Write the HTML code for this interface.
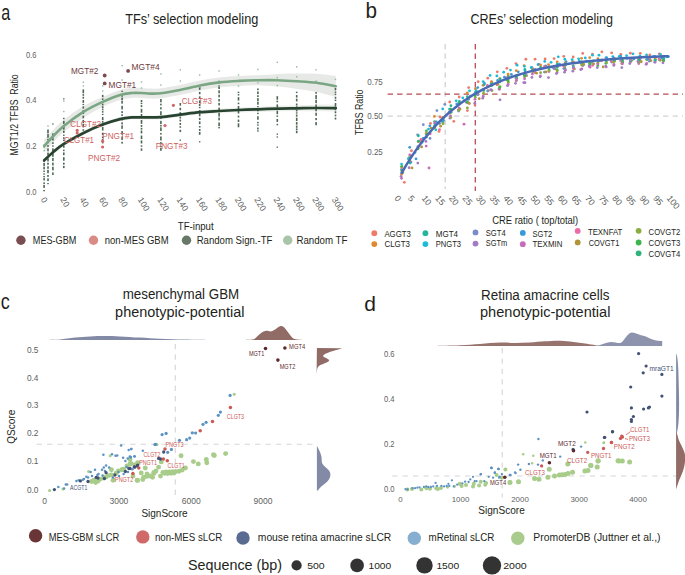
<!DOCTYPE html>
<html><head><meta charset="utf-8"><style>
html,body{margin:0;padding:0;background:#fff;width:685px;height:575px;overflow:hidden}
svg{display:block}
text{font-family:"Liberation Sans", sans-serif}
</style></head><body>
<svg width="685" height="575" viewBox="0 0 685 575">
<rect width="685" height="575" fill="#fff"/>
<text x="1.20" y="20.20" font-size="21.5" fill="#231f20" text-anchor="start" textLength="9.00" lengthAdjust="spacingAndGlyphs">a</text>
<text x="125.20" y="23.80" font-size="14.0" fill="#231f20" text-anchor="start" textLength="133.10" lengthAdjust="spacingAndGlyphs">TFs’ selection modeling</text>
<text x="36.50" y="57.65" font-size="8.3" fill="#5e5f61" text-anchor="end" textLength="10.50" lengthAdjust="spacingAndGlyphs">0.6</text>
<text x="36.50" y="103.15" font-size="8.3" fill="#5e5f61" text-anchor="end" textLength="10.50" lengthAdjust="spacingAndGlyphs">0.4</text>
<text x="36.50" y="148.75" font-size="8.3" fill="#5e5f61" text-anchor="end" textLength="10.50" lengthAdjust="spacingAndGlyphs">0.2</text>
<text x="36.50" y="194.95" font-size="8.3" fill="#5e5f61" text-anchor="end" textLength="10.50" lengthAdjust="spacingAndGlyphs">0.0</text>
<text x="18.10" y="114.90" font-size="10.4" fill="#231f20" text-anchor="middle" textLength="81.20" lengthAdjust="spacingAndGlyphs" transform="rotate(-90 18.10 114.90)">MGT1/2 TFBS  Ratio</text>
<text x="40.50" y="199.60" font-size="8.6" fill="#5e5f61" text-anchor="start" transform="rotate(58 40.50 199.60)">0</text>
<text x="59.90" y="199.60" font-size="8.6" fill="#5e5f61" text-anchor="start" transform="rotate(58 59.90 199.60)">20</text>
<text x="79.30" y="199.60" font-size="8.6" fill="#5e5f61" text-anchor="start" transform="rotate(58 79.30 199.60)">40</text>
<text x="98.70" y="199.60" font-size="8.6" fill="#5e5f61" text-anchor="start" transform="rotate(58 98.70 199.60)">60</text>
<text x="118.10" y="199.60" font-size="8.6" fill="#5e5f61" text-anchor="start" transform="rotate(58 118.10 199.60)">80</text>
<text x="137.50" y="199.60" font-size="8.6" fill="#5e5f61" text-anchor="start" transform="rotate(58 137.50 199.60)">100</text>
<text x="156.90" y="199.60" font-size="8.6" fill="#5e5f61" text-anchor="start" transform="rotate(58 156.90 199.60)">120</text>
<text x="176.30" y="199.60" font-size="8.6" fill="#5e5f61" text-anchor="start" transform="rotate(58 176.30 199.60)">140</text>
<text x="195.70" y="199.60" font-size="8.6" fill="#5e5f61" text-anchor="start" transform="rotate(58 195.70 199.60)">160</text>
<text x="215.10" y="199.60" font-size="8.6" fill="#5e5f61" text-anchor="start" transform="rotate(58 215.10 199.60)">180</text>
<text x="234.50" y="199.60" font-size="8.6" fill="#5e5f61" text-anchor="start" transform="rotate(58 234.50 199.60)">200</text>
<text x="253.90" y="199.60" font-size="8.6" fill="#5e5f61" text-anchor="start" transform="rotate(58 253.90 199.60)">220</text>
<text x="273.30" y="199.60" font-size="8.6" fill="#5e5f61" text-anchor="start" transform="rotate(58 273.30 199.60)">240</text>
<text x="292.70" y="199.60" font-size="8.6" fill="#5e5f61" text-anchor="start" transform="rotate(58 292.70 199.60)">260</text>
<text x="312.10" y="199.60" font-size="8.6" fill="#5e5f61" text-anchor="start" transform="rotate(58 312.10 199.60)">280</text>
<text x="331.50" y="199.60" font-size="8.6" fill="#5e5f61" text-anchor="start" transform="rotate(58 331.50 199.60)">300</text>
<path d="M44.20,139.50 C45.67,137.95 49.78,133.40 53.00,130.16 C56.22,126.92 58.50,124.03 63.50,120.05 C68.50,116.07 76.48,110.15 83.00,106.30 C89.52,102.44 96.43,99.63 102.60,96.90 C108.77,94.17 115.13,91.38 120.00,89.90 C124.87,88.42 128.18,88.32 131.80,88.00 C135.42,87.68 138.67,87.90 141.70,88.00 C144.73,88.10 146.80,88.57 150.00,88.60 C153.20,88.63 155.90,88.80 160.90,88.20 C165.90,87.60 173.48,86.28 180.00,85.00 C186.52,83.72 193.45,81.77 200.00,80.50 C206.55,79.23 212.85,78.17 219.30,77.40 C225.75,76.63 232.25,76.27 238.70,75.90 C245.15,75.53 251.48,75.53 258.00,75.20 C264.52,74.87 271.30,74.19 277.80,73.91 C284.30,73.63 290.53,73.56 297.00,73.52 C303.47,73.49 310.13,73.32 316.60,73.70 C323.07,74.09 332.60,75.46 335.80,75.81 L335.80,96.79 C332.60,95.97 323.07,93.21 316.60,91.90 C310.13,90.58 303.47,89.78 297.00,88.88 C290.53,87.98 284.30,87.10 277.80,86.49 C271.30,85.88 264.52,85.30 258.00,85.20 C251.48,85.10 245.15,85.53 238.70,85.90 C232.25,86.27 225.75,86.63 219.30,87.40 C212.85,88.17 206.55,89.23 200.00,90.50 C193.45,91.77 186.52,93.72 180.00,95.00 C173.48,96.28 165.90,97.60 160.90,98.20 C155.90,98.80 153.20,98.63 150.00,98.60 C146.80,98.57 144.73,98.10 141.70,98.00 C138.67,97.90 135.42,97.68 131.80,98.00 C128.18,98.32 124.87,98.42 120.00,99.90 C115.13,101.38 108.77,103.90 102.60,106.90 C96.43,109.90 89.52,113.66 83.00,117.90 C76.48,122.15 68.50,128.20 63.50,132.35 C58.50,136.51 56.22,139.48 53.00,142.84 C49.78,146.20 45.67,150.89 44.20,152.50 Z" fill="#e7e9e7"/>
<path d="M44.20,158.30 C45.67,156.95 49.78,152.88 53.00,150.20 C56.22,147.52 58.50,145.37 63.50,142.20 C68.50,139.03 76.48,134.47 83.00,131.20 C89.52,127.93 96.43,124.95 102.60,122.60 C108.77,120.25 115.13,118.30 120.00,117.10 C124.87,115.90 128.18,115.68 131.80,115.40 C135.42,115.12 136.85,115.43 141.70,115.40 C146.55,115.37 154.52,115.65 160.90,115.20 C167.28,114.75 173.48,113.53 180.00,112.70 C186.52,111.87 193.45,110.85 200.00,110.20 C206.55,109.55 212.85,109.22 219.30,108.79 C225.75,108.35 232.25,107.93 238.70,107.57 C245.15,107.22 251.48,106.97 258.00,106.66 C264.52,106.36 271.30,105.98 277.80,105.74 C284.30,105.50 290.53,105.40 297.00,105.23 C303.47,105.06 310.13,104.82 316.60,104.71 C323.07,104.61 332.60,104.62 335.80,104.60 L335.80,111.60 C332.60,111.55 323.07,111.32 316.60,111.29 C310.13,111.25 303.47,111.34 297.00,111.37 C290.53,111.40 284.30,111.36 277.80,111.46 C271.30,111.55 264.52,111.78 258.00,111.94 C251.48,112.10 245.15,112.21 238.70,112.43 C232.25,112.64 225.75,112.92 219.30,113.21 C212.85,113.51 206.55,113.62 200.00,114.20 C193.45,114.78 186.52,115.87 180.00,116.70 C173.48,117.53 167.28,118.75 160.90,119.20 C154.52,119.65 146.55,119.37 141.70,119.40 C136.85,119.43 135.42,119.12 131.80,119.40 C128.18,119.68 124.87,119.90 120.00,121.10 C115.13,122.30 108.77,124.25 102.60,126.60 C96.43,128.95 89.52,131.93 83.00,135.20 C76.48,138.47 68.50,143.03 63.50,146.20 C58.50,149.37 56.22,151.52 53.00,154.20 C49.78,156.88 45.67,160.95 44.20,162.30 Z" fill="#eef0ee"/>
<rect x="43.30" y="160.00" width="1.6" height="2.11" fill="#37553f" fill-opacity="0.9"/>
<rect x="43.30" y="162.95" width="1.6" height="3.02" fill="#37553f" fill-opacity="0.9"/>
<rect x="43.30" y="166.69" width="1.6" height="2.70" fill="#37553f" fill-opacity="0.9"/>
<rect x="43.30" y="170.57" width="1.6" height="1.36" fill="#37553f" fill-opacity="0.9"/>
<rect x="43.30" y="173.35" width="1.6" height="1.30" fill="#37553f" fill-opacity="0.9"/>
<rect x="43.30" y="175.95" width="1.6" height="1.40" fill="#37553f" fill-opacity="0.9"/>
<rect x="43.30" y="178.09" width="1.6" height="2.39" fill="#37553f" fill-opacity="0.9"/>
<rect x="43.30" y="182.40" width="1.6" height="1.55" fill="#37553f" fill-opacity="0.9"/>
<rect x="43.30" y="184.90" width="1.6" height="2.96" fill="#37553f" fill-opacity="0.9"/>
<rect x="43.30" y="189.97" width="1.6" height="1.33" fill="#37553f" fill-opacity="0.9"/>
<rect x="43.40" y="144.30" width="1.4" height="1.4" fill="#92b99a"/>
<rect x="43.40" y="146.80" width="1.4" height="1.4" fill="#92b99a"/>
<rect x="43.40" y="149.90" width="1.4" height="1.4" fill="#92b99a"/>
<rect x="47.20" y="129.50" width="1.6" height="3.93" fill="#37553f" fill-opacity="0.9"/>
<rect x="47.20" y="134.11" width="1.6" height="3.60" fill="#37553f" fill-opacity="0.9"/>
<rect x="47.20" y="138.78" width="1.6" height="1.60" fill="#37553f" fill-opacity="0.9"/>
<rect x="47.20" y="141.17" width="1.6" height="2.06" fill="#37553f" fill-opacity="0.9"/>
<rect x="47.20" y="145.14" width="1.6" height="1.71" fill="#37553f" fill-opacity="0.9"/>
<rect x="47.20" y="148.37" width="1.6" height="2.99" fill="#37553f" fill-opacity="0.9"/>
<rect x="47.20" y="152.56" width="1.6" height="2.73" fill="#37553f" fill-opacity="0.9"/>
<rect x="47.20" y="155.99" width="1.6" height="1.37" fill="#37553f" fill-opacity="0.9"/>
<rect x="47.20" y="158.29" width="1.6" height="3.11" fill="#37553f" fill-opacity="0.9"/>
<rect x="47.20" y="162.68" width="1.6" height="2.08" fill="#37553f" fill-opacity="0.9"/>
<rect x="47.20" y="166.29" width="1.6" height="2.47" fill="#37553f" fill-opacity="0.9"/>
<rect x="47.20" y="169.84" width="1.6" height="3.42" fill="#37553f" fill-opacity="0.9"/>
<rect x="47.20" y="174.99" width="1.6" height="1.88" fill="#37553f" fill-opacity="0.9"/>
<rect x="47.20" y="178.39" width="1.6" height="2.67" fill="#37553f" fill-opacity="0.9"/>
<rect x="47.20" y="183.06" width="1.6" height="1.14" fill="#37553f" fill-opacity="0.9"/>
<rect x="47.30" y="125.30" width="1.4" height="1.4" fill="#92b99a"/>
<rect x="52.10" y="133.40" width="1.6" height="3.94" fill="#37553f" fill-opacity="0.9"/>
<rect x="52.10" y="138.13" width="1.6" height="2.37" fill="#37553f" fill-opacity="0.9"/>
<rect x="52.10" y="142.32" width="1.6" height="1.63" fill="#37553f" fill-opacity="0.9"/>
<rect x="52.10" y="145.32" width="1.6" height="1.31" fill="#37553f" fill-opacity="0.9"/>
<rect x="52.10" y="148.30" width="1.6" height="3.34" fill="#37553f" fill-opacity="0.9"/>
<rect x="52.10" y="153.16" width="1.6" height="3.65" fill="#37553f" fill-opacity="0.9"/>
<rect x="52.10" y="157.91" width="1.6" height="3.15" fill="#37553f" fill-opacity="0.9"/>
<rect x="52.10" y="162.61" width="1.6" height="2.82" fill="#37553f" fill-opacity="0.9"/>
<rect x="52.10" y="166.76" width="1.6" height="3.55" fill="#37553f" fill-opacity="0.9"/>
<rect x="52.10" y="172.43" width="1.6" height="2.53" fill="#37553f" fill-opacity="0.9"/>
<rect x="52.20" y="123.30" width="1.4" height="1.4" fill="#37553f" fill-opacity="0.8"/>
<rect x="63.00" y="117.80" width="1.6" height="1.37" fill="#37553f" fill-opacity="0.9"/>
<rect x="63.00" y="120.89" width="1.6" height="3.01" fill="#37553f" fill-opacity="0.9"/>
<rect x="63.00" y="126.09" width="1.6" height="3.50" fill="#37553f" fill-opacity="0.9"/>
<rect x="63.00" y="130.65" width="1.6" height="2.28" fill="#37553f" fill-opacity="0.9"/>
<rect x="63.00" y="134.60" width="1.6" height="1.26" fill="#37553f" fill-opacity="0.9"/>
<rect x="63.00" y="137.20" width="1.6" height="1.67" fill="#37553f" fill-opacity="0.9"/>
<rect x="63.00" y="139.66" width="1.6" height="1.37" fill="#37553f" fill-opacity="0.9"/>
<rect x="63.00" y="142.85" width="1.6" height="1.56" fill="#37553f" fill-opacity="0.9"/>
<rect x="63.00" y="145.41" width="1.6" height="2.29" fill="#37553f" fill-opacity="0.9"/>
<rect x="63.00" y="149.70" width="1.6" height="1.43" fill="#37553f" fill-opacity="0.9"/>
<rect x="63.00" y="152.45" width="1.6" height="2.74" fill="#37553f" fill-opacity="0.9"/>
<rect x="63.00" y="157.20" width="1.6" height="3.49" fill="#37553f" fill-opacity="0.9"/>
<rect x="63.00" y="162.67" width="1.6" height="1.98" fill="#37553f" fill-opacity="0.9"/>
<rect x="63.00" y="165.92" width="1.6" height="2.20" fill="#37553f" fill-opacity="0.9"/>
<rect x="63.10" y="98.10" width="1.4" height="1.4" fill="#37553f" fill-opacity="0.8"/>
<rect x="63.10" y="100.30" width="1.4" height="1.4" fill="#92b99a"/>
<rect x="63.10" y="110.90" width="1.4" height="1.4" fill="#92b99a"/>
<rect x="82.50" y="89.40" width="1.6" height="3.88" fill="#37553f" fill-opacity="0.9"/>
<rect x="82.50" y="94.12" width="1.6" height="1.69" fill="#37553f" fill-opacity="0.9"/>
<rect x="82.50" y="96.79" width="1.6" height="1.85" fill="#37553f" fill-opacity="0.9"/>
<rect x="82.50" y="100.02" width="1.6" height="2.85" fill="#37553f" fill-opacity="0.9"/>
<rect x="82.50" y="103.89" width="1.6" height="1.21" fill="#37553f" fill-opacity="0.9"/>
<rect x="82.50" y="106.37" width="1.6" height="2.23" fill="#37553f" fill-opacity="0.9"/>
<rect x="82.50" y="110.11" width="1.6" height="3.87" fill="#37553f" fill-opacity="0.9"/>
<rect x="82.50" y="115.68" width="1.6" height="2.64" fill="#37553f" fill-opacity="0.9"/>
<rect x="82.50" y="119.91" width="1.6" height="3.09" fill="#37553f" fill-opacity="0.9"/>
<rect x="82.50" y="123.69" width="1.6" height="3.72" fill="#37553f" fill-opacity="0.9"/>
<rect x="82.50" y="129.26" width="1.6" height="1.54" fill="#37553f" fill-opacity="0.9"/>
<rect x="82.60" y="81.60" width="1.4" height="1.4" fill="#92b99a"/>
<rect x="82.60" y="85.30" width="1.4" height="1.4" fill="#92b99a"/>
<rect x="101.90" y="94.90" width="1.6" height="2.30" fill="#37553f" fill-opacity="0.9"/>
<rect x="101.90" y="98.44" width="1.6" height="1.49" fill="#37553f" fill-opacity="0.9"/>
<rect x="101.90" y="101.54" width="1.6" height="1.37" fill="#37553f" fill-opacity="0.9"/>
<rect x="101.90" y="103.62" width="1.6" height="1.78" fill="#37553f" fill-opacity="0.9"/>
<rect x="101.90" y="106.27" width="1.6" height="2.15" fill="#37553f" fill-opacity="0.9"/>
<rect x="101.90" y="109.10" width="1.6" height="1.20" fill="#37553f" fill-opacity="0.9"/>
<rect x="101.90" y="111.15" width="1.6" height="1.48" fill="#37553f" fill-opacity="0.9"/>
<rect x="101.90" y="113.81" width="1.6" height="1.27" fill="#37553f" fill-opacity="0.9"/>
<rect x="101.90" y="117.08" width="1.6" height="2.92" fill="#37553f" fill-opacity="0.9"/>
<rect x="101.90" y="120.84" width="1.6" height="1.91" fill="#37553f" fill-opacity="0.9"/>
<rect x="101.90" y="123.90" width="1.6" height="2.22" fill="#37553f" fill-opacity="0.9"/>
<rect x="101.90" y="126.92" width="1.6" height="3.58" fill="#37553f" fill-opacity="0.9"/>
<rect x="101.90" y="132.68" width="1.6" height="2.50" fill="#37553f" fill-opacity="0.9"/>
<rect x="101.90" y="136.56" width="1.6" height="1.44" fill="#37553f" fill-opacity="0.9"/>
<rect x="101.90" y="138.77" width="1.6" height="2.16" fill="#37553f" fill-opacity="0.9"/>
<rect x="101.90" y="141.95" width="1.6" height="1.45" fill="#37553f" fill-opacity="0.9"/>
<rect x="102.00" y="85.30" width="1.4" height="1.4" fill="#92b99a"/>
<rect x="102.00" y="90.30" width="1.4" height="1.4" fill="#92b99a"/>
<rect x="121.30" y="90.70" width="1.6" height="1.26" fill="#37553f" fill-opacity="0.9"/>
<rect x="121.30" y="94.09" width="1.6" height="2.68" fill="#37553f" fill-opacity="0.9"/>
<rect x="121.30" y="97.60" width="1.6" height="2.72" fill="#37553f" fill-opacity="0.9"/>
<rect x="121.30" y="100.96" width="1.6" height="2.68" fill="#37553f" fill-opacity="0.9"/>
<rect x="121.30" y="105.81" width="1.6" height="3.62" fill="#37553f" fill-opacity="0.9"/>
<rect x="121.30" y="111.14" width="1.6" height="1.93" fill="#37553f" fill-opacity="0.9"/>
<rect x="121.30" y="114.26" width="1.6" height="1.67" fill="#37553f" fill-opacity="0.9"/>
<rect x="121.30" y="117.76" width="1.6" height="2.69" fill="#37553f" fill-opacity="0.9"/>
<rect x="121.30" y="122.30" width="1.6" height="2.12" fill="#37553f" fill-opacity="0.9"/>
<rect x="121.30" y="125.38" width="1.6" height="3.47" fill="#37553f" fill-opacity="0.9"/>
<rect x="121.30" y="131.03" width="1.6" height="3.59" fill="#37553f" fill-opacity="0.9"/>
<rect x="121.30" y="136.50" width="1.6" height="3.49" fill="#37553f" fill-opacity="0.9"/>
<rect x="121.30" y="141.78" width="1.6" height="1.83" fill="#37553f" fill-opacity="0.9"/>
<rect x="121.40" y="65.00" width="1.4" height="1.4" fill="#92b99a"/>
<rect x="121.40" y="79.30" width="1.4" height="1.4" fill="#92b99a"/>
<rect x="140.70" y="100.00" width="1.6" height="2.20" fill="#37553f" fill-opacity="0.9"/>
<rect x="140.70" y="102.84" width="1.6" height="1.28" fill="#37553f" fill-opacity="0.9"/>
<rect x="140.70" y="105.17" width="1.6" height="1.93" fill="#37553f" fill-opacity="0.9"/>
<rect x="140.70" y="108.80" width="1.6" height="3.88" fill="#37553f" fill-opacity="0.9"/>
<rect x="140.70" y="113.99" width="1.6" height="3.82" fill="#37553f" fill-opacity="0.9"/>
<rect x="140.70" y="120.00" width="1.6" height="3.87" fill="#37553f" fill-opacity="0.9"/>
<rect x="140.70" y="125.06" width="1.6" height="1.82" fill="#37553f" fill-opacity="0.9"/>
<rect x="140.70" y="127.84" width="1.6" height="1.75" fill="#37553f" fill-opacity="0.9"/>
<rect x="140.70" y="130.51" width="1.6" height="2.95" fill="#37553f" fill-opacity="0.9"/>
<rect x="140.70" y="135.50" width="1.6" height="3.55" fill="#37553f" fill-opacity="0.9"/>
<rect x="140.70" y="140.42" width="1.6" height="3.03" fill="#37553f" fill-opacity="0.9"/>
<rect x="140.70" y="145.33" width="1.6" height="1.44" fill="#37553f" fill-opacity="0.9"/>
<rect x="140.70" y="148.43" width="1.6" height="2.37" fill="#37553f" fill-opacity="0.9"/>
<rect x="140.80" y="81.30" width="1.4" height="1.4" fill="#92b99a"/>
<rect x="140.80" y="87.30" width="1.4" height="1.4" fill="#92b99a"/>
<rect x="160.10" y="99.00" width="1.6" height="3.30" fill="#37553f" fill-opacity="0.9"/>
<rect x="160.10" y="103.67" width="1.6" height="1.70" fill="#37553f" fill-opacity="0.9"/>
<rect x="160.10" y="107.23" width="1.6" height="2.13" fill="#37553f" fill-opacity="0.9"/>
<rect x="160.10" y="111.24" width="1.6" height="3.92" fill="#37553f" fill-opacity="0.9"/>
<rect x="160.10" y="116.39" width="1.6" height="2.32" fill="#37553f" fill-opacity="0.9"/>
<rect x="160.10" y="120.83" width="1.6" height="3.23" fill="#37553f" fill-opacity="0.9"/>
<rect x="160.10" y="124.93" width="1.6" height="1.56" fill="#37553f" fill-opacity="0.9"/>
<rect x="160.10" y="127.33" width="1.6" height="3.73" fill="#37553f" fill-opacity="0.9"/>
<rect x="160.10" y="132.96" width="1.6" height="1.61" fill="#37553f" fill-opacity="0.9"/>
<rect x="160.10" y="136.49" width="1.6" height="3.94" fill="#37553f" fill-opacity="0.9"/>
<rect x="160.10" y="142.08" width="1.6" height="2.18" fill="#37553f" fill-opacity="0.9"/>
<rect x="160.10" y="145.74" width="1.6" height="1.57" fill="#37553f" fill-opacity="0.9"/>
<rect x="160.10" y="147.93" width="1.6" height="2.87" fill="#37553f" fill-opacity="0.9"/>
<rect x="160.20" y="73.30" width="1.4" height="1.4" fill="#92b99a"/>
<rect x="160.20" y="84.30" width="1.4" height="1.4" fill="#92b99a"/>
<rect x="179.50" y="103.00" width="1.6" height="2.67" fill="#37553f" fill-opacity="0.9"/>
<rect x="179.50" y="107.77" width="1.6" height="2.41" fill="#37553f" fill-opacity="0.9"/>
<rect x="179.50" y="112.18" width="1.6" height="3.51" fill="#37553f" fill-opacity="0.9"/>
<rect x="179.50" y="116.63" width="1.6" height="1.91" fill="#37553f" fill-opacity="0.9"/>
<rect x="179.50" y="119.60" width="1.6" height="1.87" fill="#37553f" fill-opacity="0.9"/>
<rect x="179.50" y="123.01" width="1.6" height="1.93" fill="#37553f" fill-opacity="0.9"/>
<rect x="179.50" y="126.21" width="1.6" height="1.57" fill="#37553f" fill-opacity="0.9"/>
<rect x="179.50" y="129.83" width="1.6" height="2.19" fill="#37553f" fill-opacity="0.9"/>
<rect x="179.60" y="139.50" width="1.4" height="1.4" fill="#37553f" fill-opacity="0.8"/>
<rect x="179.60" y="69.10" width="1.4" height="1.4" fill="#92b99a"/>
<rect x="179.60" y="80.30" width="1.4" height="1.4" fill="#92b99a"/>
<rect x="198.90" y="87.00" width="1.6" height="2.83" fill="#37553f" fill-opacity="0.9"/>
<rect x="198.90" y="91.88" width="1.6" height="2.38" fill="#37553f" fill-opacity="0.9"/>
<rect x="198.90" y="96.33" width="1.6" height="2.60" fill="#37553f" fill-opacity="0.9"/>
<rect x="198.90" y="100.38" width="1.6" height="2.67" fill="#37553f" fill-opacity="0.9"/>
<rect x="198.90" y="103.68" width="1.6" height="2.43" fill="#37553f" fill-opacity="0.9"/>
<rect x="198.90" y="107.00" width="1.6" height="1.21" fill="#37553f" fill-opacity="0.9"/>
<rect x="198.90" y="110.09" width="1.6" height="1.68" fill="#37553f" fill-opacity="0.9"/>
<rect x="198.90" y="113.13" width="1.6" height="3.23" fill="#37553f" fill-opacity="0.9"/>
<rect x="198.90" y="117.85" width="1.6" height="2.11" fill="#37553f" fill-opacity="0.9"/>
<rect x="198.90" y="121.40" width="1.6" height="2.76" fill="#37553f" fill-opacity="0.9"/>
<rect x="198.90" y="126.01" width="1.6" height="1.50" fill="#37553f" fill-opacity="0.9"/>
<rect x="198.90" y="129.00" width="1.6" height="1.90" fill="#37553f" fill-opacity="0.9"/>
<rect x="198.90" y="131.94" width="1.6" height="2.86" fill="#37553f" fill-opacity="0.9"/>
<rect x="199.00" y="141.10" width="1.4" height="1.4" fill="#37553f" fill-opacity="0.8"/>
<rect x="199.00" y="74.30" width="1.4" height="1.4" fill="#92b99a"/>
<rect x="199.00" y="86.30" width="1.4" height="1.4" fill="#92b99a"/>
<rect x="218.30" y="80.70" width="1.6" height="2.77" fill="#37553f" fill-opacity="0.9"/>
<rect x="218.30" y="85.29" width="1.6" height="3.75" fill="#37553f" fill-opacity="0.9"/>
<rect x="218.30" y="90.35" width="1.6" height="2.92" fill="#37553f" fill-opacity="0.9"/>
<rect x="218.30" y="94.68" width="1.6" height="2.63" fill="#37553f" fill-opacity="0.9"/>
<rect x="218.30" y="99.02" width="1.6" height="2.47" fill="#37553f" fill-opacity="0.9"/>
<rect x="218.30" y="102.94" width="1.6" height="2.54" fill="#37553f" fill-opacity="0.9"/>
<rect x="218.30" y="107.58" width="1.6" height="3.16" fill="#37553f" fill-opacity="0.9"/>
<rect x="218.30" y="112.74" width="1.6" height="3.84" fill="#37553f" fill-opacity="0.9"/>
<rect x="218.30" y="117.60" width="1.6" height="2.77" fill="#37553f" fill-opacity="0.9"/>
<rect x="218.30" y="122.47" width="1.6" height="3.55" fill="#37553f" fill-opacity="0.9"/>
<rect x="218.30" y="126.85" width="1.6" height="1.54" fill="#37553f" fill-opacity="0.9"/>
<rect x="218.40" y="70.30" width="1.4" height="1.4" fill="#92b99a"/>
<rect x="218.40" y="85.60" width="1.4" height="1.4" fill="#92b99a"/>
<rect x="237.70" y="91.70" width="1.6" height="1.40" fill="#37553f" fill-opacity="0.9"/>
<rect x="237.70" y="94.09" width="1.6" height="1.40" fill="#37553f" fill-opacity="0.9"/>
<rect x="237.70" y="97.16" width="1.6" height="3.40" fill="#37553f" fill-opacity="0.9"/>
<rect x="237.70" y="102.59" width="1.6" height="1.63" fill="#37553f" fill-opacity="0.9"/>
<rect x="237.70" y="105.97" width="1.6" height="3.05" fill="#37553f" fill-opacity="0.9"/>
<rect x="237.70" y="109.85" width="1.6" height="3.67" fill="#37553f" fill-opacity="0.9"/>
<rect x="237.70" y="115.67" width="1.6" height="1.81" fill="#37553f" fill-opacity="0.9"/>
<rect x="237.70" y="119.61" width="1.6" height="2.32" fill="#37553f" fill-opacity="0.9"/>
<rect x="237.70" y="123.30" width="1.6" height="3.97" fill="#37553f" fill-opacity="0.9"/>
<rect x="237.80" y="74.30" width="1.4" height="1.4" fill="#92b99a"/>
<rect x="237.80" y="85.30" width="1.4" height="1.4" fill="#92b99a"/>
<rect x="257.10" y="88.50" width="1.6" height="1.65" fill="#37553f" fill-opacity="0.9"/>
<rect x="257.10" y="91.44" width="1.6" height="2.64" fill="#37553f" fill-opacity="0.9"/>
<rect x="257.10" y="95.23" width="1.6" height="1.75" fill="#37553f" fill-opacity="0.9"/>
<rect x="257.10" y="98.09" width="1.6" height="3.22" fill="#37553f" fill-opacity="0.9"/>
<rect x="257.10" y="101.94" width="1.6" height="2.75" fill="#37553f" fill-opacity="0.9"/>
<rect x="257.10" y="106.00" width="1.6" height="1.25" fill="#37553f" fill-opacity="0.9"/>
<rect x="257.10" y="108.38" width="1.6" height="2.95" fill="#37553f" fill-opacity="0.9"/>
<rect x="257.10" y="112.74" width="1.6" height="1.38" fill="#37553f" fill-opacity="0.9"/>
<rect x="257.10" y="116.30" width="1.6" height="3.41" fill="#37553f" fill-opacity="0.9"/>
<rect x="257.10" y="121.86" width="1.6" height="1.49" fill="#37553f" fill-opacity="0.9"/>
<rect x="257.10" y="124.38" width="1.6" height="1.31" fill="#37553f" fill-opacity="0.9"/>
<rect x="257.10" y="127.54" width="1.6" height="1.96" fill="#37553f" fill-opacity="0.9"/>
<rect x="257.10" y="130.30" width="1.6" height="1.30" fill="#37553f" fill-opacity="0.9"/>
<rect x="257.20" y="68.70" width="1.4" height="1.4" fill="#92b99a"/>
<rect x="257.20" y="82.10" width="1.4" height="1.4" fill="#92b99a"/>
<rect x="276.50" y="96.20" width="1.6" height="3.49" fill="#37553f" fill-opacity="0.9"/>
<rect x="276.50" y="100.71" width="1.6" height="1.62" fill="#37553f" fill-opacity="0.9"/>
<rect x="276.50" y="104.40" width="1.6" height="2.80" fill="#37553f" fill-opacity="0.9"/>
<rect x="276.50" y="108.91" width="1.6" height="1.45" fill="#37553f" fill-opacity="0.9"/>
<rect x="276.50" y="111.06" width="1.6" height="3.13" fill="#37553f" fill-opacity="0.9"/>
<rect x="276.50" y="115.46" width="1.6" height="1.40" fill="#37553f" fill-opacity="0.9"/>
<rect x="276.50" y="118.97" width="1.6" height="2.98" fill="#37553f" fill-opacity="0.9"/>
<rect x="276.50" y="123.83" width="1.6" height="1.43" fill="#37553f" fill-opacity="0.9"/>
<rect x="276.60" y="133.50" width="1.4" height="1.4" fill="#37553f" fill-opacity="0.8"/>
<rect x="276.60" y="136.30" width="1.4" height="1.4" fill="#37553f" fill-opacity="0.8"/>
<rect x="276.60" y="146.50" width="1.4" height="1.4" fill="#37553f" fill-opacity="0.8"/>
<rect x="276.60" y="61.60" width="1.4" height="1.4" fill="#92b99a"/>
<rect x="276.60" y="76.90" width="1.4" height="1.4" fill="#92b99a"/>
<rect x="276.60" y="84.80" width="1.4" height="1.4" fill="#92b99a"/>
<rect x="295.90" y="91.70" width="1.6" height="1.39" fill="#37553f" fill-opacity="0.9"/>
<rect x="295.90" y="95.07" width="1.6" height="2.47" fill="#37553f" fill-opacity="0.9"/>
<rect x="295.90" y="98.68" width="1.6" height="2.75" fill="#37553f" fill-opacity="0.9"/>
<rect x="295.90" y="103.51" width="1.6" height="1.95" fill="#37553f" fill-opacity="0.9"/>
<rect x="295.90" y="106.27" width="1.6" height="2.68" fill="#37553f" fill-opacity="0.9"/>
<rect x="295.90" y="109.93" width="1.6" height="1.51" fill="#37553f" fill-opacity="0.9"/>
<rect x="295.90" y="112.29" width="1.6" height="1.34" fill="#37553f" fill-opacity="0.9"/>
<rect x="295.90" y="114.55" width="1.6" height="2.07" fill="#37553f" fill-opacity="0.9"/>
<rect x="295.90" y="117.72" width="1.6" height="3.33" fill="#37553f" fill-opacity="0.9"/>
<rect x="295.90" y="122.11" width="1.6" height="2.60" fill="#37553f" fill-opacity="0.9"/>
<rect x="295.90" y="125.59" width="1.6" height="2.17" fill="#37553f" fill-opacity="0.9"/>
<rect x="295.90" y="128.39" width="1.6" height="1.90" fill="#37553f" fill-opacity="0.9"/>
<rect x="295.90" y="130.92" width="1.6" height="2.28" fill="#37553f" fill-opacity="0.9"/>
<rect x="296.00" y="66.10" width="1.4" height="1.4" fill="#92b99a"/>
<rect x="296.00" y="76.10" width="1.4" height="1.4" fill="#92b99a"/>
<rect x="296.00" y="80.40" width="1.4" height="1.4" fill="#92b99a"/>
<rect x="315.30" y="92.00" width="1.6" height="1.73" fill="#37553f" fill-opacity="0.9"/>
<rect x="315.30" y="95.09" width="1.6" height="3.82" fill="#37553f" fill-opacity="0.9"/>
<rect x="315.30" y="99.68" width="1.6" height="3.49" fill="#37553f" fill-opacity="0.9"/>
<rect x="315.30" y="104.46" width="1.6" height="2.59" fill="#37553f" fill-opacity="0.9"/>
<rect x="315.30" y="108.98" width="1.6" height="2.30" fill="#37553f" fill-opacity="0.9"/>
<rect x="315.30" y="112.69" width="1.6" height="3.13" fill="#37553f" fill-opacity="0.9"/>
<rect x="315.30" y="117.99" width="1.6" height="2.16" fill="#37553f" fill-opacity="0.9"/>
<rect x="315.30" y="122.08" width="1.6" height="3.18" fill="#37553f" fill-opacity="0.9"/>
<rect x="315.40" y="69.10" width="1.4" height="1.4" fill="#92b99a"/>
<rect x="315.40" y="80.40" width="1.4" height="1.4" fill="#92b99a"/>
<rect x="334.70" y="88.00" width="1.6" height="2.33" fill="#37553f" fill-opacity="0.9"/>
<rect x="334.70" y="91.49" width="1.6" height="1.35" fill="#37553f" fill-opacity="0.9"/>
<rect x="334.70" y="93.65" width="1.6" height="1.40" fill="#37553f" fill-opacity="0.9"/>
<rect x="334.70" y="96.83" width="1.6" height="1.92" fill="#37553f" fill-opacity="0.9"/>
<rect x="334.70" y="99.61" width="1.6" height="1.44" fill="#37553f" fill-opacity="0.9"/>
<rect x="334.70" y="102.99" width="1.6" height="3.64" fill="#37553f" fill-opacity="0.9"/>
<rect x="334.70" y="108.30" width="1.6" height="1.99" fill="#37553f" fill-opacity="0.9"/>
<rect x="334.70" y="111.28" width="1.6" height="2.02" fill="#37553f" fill-opacity="0.9"/>
<rect x="334.70" y="114.64" width="1.6" height="1.64" fill="#37553f" fill-opacity="0.9"/>
<rect x="334.70" y="117.59" width="1.6" height="1.94" fill="#37553f" fill-opacity="0.9"/>
<rect x="334.80" y="78.70" width="1.4" height="1.4" fill="#92b99a"/>
<path d="M44.20,146.00 C45.67,144.42 49.78,139.80 53.00,136.50 C56.22,133.20 58.50,130.27 63.50,126.20 C68.50,122.13 76.48,116.15 83.00,112.10 C89.52,108.05 96.43,104.77 102.60,101.90 C108.77,99.03 115.13,96.38 120.00,94.90 C124.87,93.42 128.18,93.32 131.80,93.00 C135.42,92.68 138.67,92.90 141.70,93.00 C144.73,93.10 146.80,93.57 150.00,93.60 C153.20,93.63 155.90,93.80 160.90,93.20 C165.90,92.60 173.48,91.28 180.00,90.00 C186.52,88.72 193.45,86.77 200.00,85.50 C206.55,84.23 212.85,83.17 219.30,82.40 C225.75,81.63 232.25,81.27 238.70,80.90 C245.15,80.53 251.48,80.32 258.00,80.20 C264.52,80.08 271.30,80.03 277.80,80.20 C284.30,80.37 290.53,80.77 297.00,81.20 C303.47,81.63 310.13,81.95 316.60,82.80 C323.07,83.65 332.60,85.72 335.80,86.30" fill="none" stroke="#7aa683" stroke-width="2.6" stroke-linecap="round"/>
<path d="M44.20,160.30 C45.67,158.95 49.78,154.88 53.00,152.20 C56.22,149.52 58.50,147.37 63.50,144.20 C68.50,141.03 76.48,136.47 83.00,133.20 C89.52,129.93 96.43,126.95 102.60,124.60 C108.77,122.25 115.13,120.30 120.00,119.10 C124.87,117.90 128.18,117.68 131.80,117.40 C135.42,117.12 136.85,117.43 141.70,117.40 C146.55,117.37 154.52,117.65 160.90,117.20 C167.28,116.75 173.48,115.53 180.00,114.70 C186.52,113.87 193.45,112.82 200.00,112.20 C206.55,111.58 212.85,111.37 219.30,111.00 C225.75,110.63 232.25,110.28 238.70,110.00 C245.15,109.72 251.48,109.53 258.00,109.30 C264.52,109.07 271.30,108.77 277.80,108.60 C284.30,108.43 290.53,108.40 297.00,108.30 C303.47,108.20 310.13,108.03 316.60,108.00 C323.07,107.97 332.60,108.08 335.80,108.10" fill="none" stroke="#28432f" stroke-width="2.7" stroke-linecap="round"/>
<circle cx="104.70" cy="75.50" r="1.9" fill="#7a4a4f"/>
<circle cx="104.70" cy="83.40" r="1.9" fill="#7a4a4f"/>
<circle cx="128.10" cy="70.90" r="1.9" fill="#7a4a4f"/>
<text x="71.00" y="73.88" font-size="8.8" fill="#6e3b40" text-anchor="start" textLength="27.40" lengthAdjust="spacingAndGlyphs">MGT#2</text>
<text x="108.60" y="88.08" font-size="8.8" fill="#6e3b40" text-anchor="start" textLength="27.60" lengthAdjust="spacingAndGlyphs">MGT#1</text>
<text x="131.60" y="69.88" font-size="8.8" fill="#6e3b40" text-anchor="start" textLength="28.10" lengthAdjust="spacingAndGlyphs">MGT#4</text>
<circle cx="77.20" cy="130.40" r="1.6" fill="#d06a67"/>
<circle cx="77.20" cy="133.00" r="1.6" fill="#d06a67"/>
<circle cx="102.60" cy="141.20" r="1.6" fill="#d06a67"/>
<circle cx="102.60" cy="147.00" r="1.6" fill="#d06a67"/>
<circle cx="173.40" cy="105.30" r="1.6" fill="#d06a67"/>
<circle cx="165.00" cy="125.60" r="1.6" fill="#d06a67"/>
<text x="70.30" y="126.78" font-size="8.8" fill="#cf5f5f" text-anchor="start" textLength="30.60" lengthAdjust="spacingAndGlyphs">CLGT#2</text>
<text x="63.90" y="143.08" font-size="8.8" fill="#cf5f5f" text-anchor="start" textLength="30.10" lengthAdjust="spacingAndGlyphs">CLGT#1</text>
<text x="102.20" y="139.18" font-size="8.8" fill="#cf5f5f" text-anchor="start" textLength="31.90" lengthAdjust="spacingAndGlyphs">PNGT#1</text>
<text x="88.10" y="160.58" font-size="8.8" fill="#cf5f5f" text-anchor="start" textLength="32.00" lengthAdjust="spacingAndGlyphs">PNGT#2</text>
<text x="181.80" y="104.28" font-size="8.8" fill="#cf5f5f" text-anchor="start" textLength="30.20" lengthAdjust="spacingAndGlyphs">CLGT#3</text>
<text x="155.70" y="149.08" font-size="8.8" fill="#cf5f5f" text-anchor="start" textLength="31.90" lengthAdjust="spacingAndGlyphs">PNGT#3</text>
<text x="177.80" y="229.50" font-size="10.6" fill="#231f20" text-anchor="start" textLength="35.80" lengthAdjust="spacingAndGlyphs">TF-input</text>
<circle cx="20.90" cy="240.30" r="4.7" fill="#7a4d50"/>
<text x="32.80" y="244.10" font-size="11.8" fill="#231f20" text-anchor="start" textLength="43.50" lengthAdjust="spacingAndGlyphs">MES-GBM</text>
<circle cx="93.50" cy="240.30" r="4.7" fill="#d98b85"/>
<text x="104.80" y="244.10" font-size="11.8" fill="#231f20" text-anchor="start" textLength="63.80" lengthAdjust="spacingAndGlyphs">non-MES GBM</text>
<circle cx="186.50" cy="240.30" r="4.7" fill="#687868"/>
<text x="196.70" y="244.10" font-size="11.8" fill="#231f20" text-anchor="start" textLength="75.70" lengthAdjust="spacingAndGlyphs">Random Sign.-TF</text>
<circle cx="287.70" cy="240.30" r="4.7" fill="#a9c5a7"/>
<text x="296.40" y="244.10" font-size="11.8" fill="#231f20" text-anchor="start" textLength="51.10" lengthAdjust="spacingAndGlyphs">Random TF</text>
<text x="365.60" y="18.30" font-size="22.5" fill="#231f20" text-anchor="start" textLength="11.50" lengthAdjust="spacingAndGlyphs">b</text>
<text x="470.50" y="23.80" font-size="14.0" fill="#231f20" text-anchor="start" textLength="142.50" lengthAdjust="spacingAndGlyphs">CREs’ selection modeling</text>
<text x="382.80" y="85.25" font-size="8.3" fill="#5e5f61" text-anchor="end" textLength="15.50" lengthAdjust="spacingAndGlyphs">0.75</text>
<text x="382.80" y="118.85" font-size="8.3" fill="#5e5f61" text-anchor="end" textLength="15.50" lengthAdjust="spacingAndGlyphs">0.50</text>
<text x="382.80" y="154.55" font-size="8.3" fill="#5e5f61" text-anchor="end" textLength="15.50" lengthAdjust="spacingAndGlyphs">0.25</text>
<text x="362.60" y="112.20" font-size="10.4" fill="#231f20" text-anchor="middle" textLength="45.40" lengthAdjust="spacingAndGlyphs" transform="rotate(-90 362.60 112.20)">TFBS Ratio</text>
<text x="393.90" y="198.40" font-size="8.8" fill="#5e5f61" text-anchor="start" transform="rotate(50 393.90 198.40)">0</text>
<text x="407.52" y="198.40" font-size="8.8" fill="#5e5f61" text-anchor="start" transform="rotate(50 407.52 198.40)">5</text>
<text x="421.14" y="198.40" font-size="8.8" fill="#5e5f61" text-anchor="start" transform="rotate(50 421.14 198.40)">10</text>
<text x="434.76" y="198.40" font-size="8.8" fill="#5e5f61" text-anchor="start" transform="rotate(50 434.76 198.40)">15</text>
<text x="448.38" y="198.40" font-size="8.8" fill="#5e5f61" text-anchor="start" transform="rotate(50 448.38 198.40)">20</text>
<text x="462.00" y="198.40" font-size="8.8" fill="#5e5f61" text-anchor="start" transform="rotate(50 462.00 198.40)">25</text>
<text x="475.62" y="198.40" font-size="8.8" fill="#5e5f61" text-anchor="start" transform="rotate(50 475.62 198.40)">30</text>
<text x="489.24" y="198.40" font-size="8.8" fill="#5e5f61" text-anchor="start" transform="rotate(50 489.24 198.40)">35</text>
<text x="502.86" y="198.40" font-size="8.8" fill="#5e5f61" text-anchor="start" transform="rotate(50 502.86 198.40)">40</text>
<text x="516.48" y="198.40" font-size="8.8" fill="#5e5f61" text-anchor="start" transform="rotate(50 516.48 198.40)">45</text>
<text x="530.10" y="198.40" font-size="8.8" fill="#5e5f61" text-anchor="start" transform="rotate(50 530.10 198.40)">50</text>
<text x="543.72" y="198.40" font-size="8.8" fill="#5e5f61" text-anchor="start" transform="rotate(50 543.72 198.40)">55</text>
<text x="557.34" y="198.40" font-size="8.8" fill="#5e5f61" text-anchor="start" transform="rotate(50 557.34 198.40)">60</text>
<text x="570.96" y="198.40" font-size="8.8" fill="#5e5f61" text-anchor="start" transform="rotate(50 570.96 198.40)">65</text>
<text x="584.58" y="198.40" font-size="8.8" fill="#5e5f61" text-anchor="start" transform="rotate(50 584.58 198.40)">70</text>
<text x="598.20" y="198.40" font-size="8.8" fill="#5e5f61" text-anchor="start" transform="rotate(50 598.20 198.40)">75</text>
<text x="611.82" y="198.40" font-size="8.8" fill="#5e5f61" text-anchor="start" transform="rotate(50 611.82 198.40)">80</text>
<text x="625.44" y="198.40" font-size="8.8" fill="#5e5f61" text-anchor="start" transform="rotate(50 625.44 198.40)">85</text>
<text x="639.06" y="198.40" font-size="8.8" fill="#5e5f61" text-anchor="start" transform="rotate(50 639.06 198.40)">90</text>
<text x="652.68" y="198.40" font-size="8.8" fill="#5e5f61" text-anchor="start" transform="rotate(50 652.68 198.40)">95</text>
<text x="666.30" y="198.40" font-size="8.8" fill="#5e5f61" text-anchor="start" transform="rotate(50 666.30 198.40)">100</text>
<line x1="387.6" y1="116.1" x2="683" y2="116.1" stroke="#d2d2d2" stroke-width="1.3" stroke-dasharray="5.2,4.3"/>
<line x1="445.2" y1="44" x2="445.2" y2="189" stroke="#d2d2d2" stroke-width="1.3" stroke-dasharray="5.2,4.3"/>
<line x1="387.6" y1="94.1" x2="683" y2="94.1" stroke="#b54d52" stroke-width="1.3" stroke-dasharray="5.4,4.1"/>
<line x1="475.3" y1="44" x2="475.3" y2="191" stroke="#b54d52" stroke-width="1.3" stroke-dasharray="5.4,4.1"/>
<circle cx="589.96" cy="61.50" r="1.4" fill="#27b49c"/>
<circle cx="646.15" cy="64.32" r="1.4" fill="#a27bc4"/>
<circle cx="478.08" cy="94.28" r="1.4" fill="#ec6aa5"/>
<circle cx="515.95" cy="63.57" r="1.4" fill="#f07a6a"/>
<circle cx="430.20" cy="133.74" r="1.4" fill="#ec6aa5"/>
<circle cx="449.32" cy="111.85" r="1.4" fill="#7b8ccc"/>
<circle cx="573.56" cy="68.07" r="1.4" fill="#8bad3f"/>
<circle cx="500.04" cy="86.70" r="1.4" fill="#8bad3f"/>
<circle cx="418.14" cy="148.11" r="1.4" fill="#8bad3f"/>
<circle cx="500.00" cy="99.80" r="1.4" fill="#a27bc4"/>
<circle cx="475.47" cy="88.74" r="1.4" fill="#e0892e"/>
<circle cx="468.61" cy="99.29" r="1.4" fill="#7b8ccc"/>
<circle cx="640.07" cy="60.67" r="1.4" fill="#7b8ccc"/>
<circle cx="417.81" cy="163.06" r="1.4" fill="#a27bc4"/>
<circle cx="574.40" cy="68.95" r="1.4" fill="#b0953a"/>
<circle cx="638.84" cy="60.17" r="1.4" fill="#3cb44b"/>
<circle cx="426.20" cy="146.12" r="1.4" fill="#c76bbb"/>
<circle cx="544.72" cy="61.44" r="1.4" fill="#1ebbd7"/>
<circle cx="467.29" cy="92.84" r="1.4" fill="#e0892e"/>
<circle cx="598.96" cy="55.14" r="1.4" fill="#1ebbd7"/>
<circle cx="483.21" cy="81.62" r="1.4" fill="#1ebbd7"/>
<circle cx="414.98" cy="152.59" r="1.4" fill="#1ebbd7"/>
<circle cx="566.06" cy="61.61" r="1.4" fill="#3a9ad9"/>
<circle cx="630.63" cy="61.66" r="1.4" fill="#8bad3f"/>
<circle cx="606.05" cy="57.54" r="1.4" fill="#1ebbd7"/>
<circle cx="565.13" cy="63.00" r="1.4" fill="#e0892e"/>
<circle cx="401.56" cy="178.33" r="1.4" fill="#c76bbb"/>
<circle cx="499.72" cy="81.88" r="1.4" fill="#2eb37c"/>
<circle cx="626.59" cy="55.70" r="1.4" fill="#1ebbd7"/>
<circle cx="592.09" cy="62.41" r="1.4" fill="#7b8ccc"/>
<circle cx="663.43" cy="57.14" r="1.4" fill="#e0892e"/>
<circle cx="614.48" cy="60.63" r="1.4" fill="#3cb44b"/>
<circle cx="564.53" cy="67.77" r="1.4" fill="#b0953a"/>
<circle cx="464.00" cy="124.20" r="1.4" fill="#c76bbb"/>
<circle cx="508.22" cy="76.18" r="1.4" fill="#2eb37c"/>
<circle cx="654.93" cy="60.12" r="1.4" fill="#3cb44b"/>
<circle cx="507.49" cy="85.69" r="1.4" fill="#a27bc4"/>
<circle cx="497.29" cy="71.81" r="1.4" fill="#f07a6a"/>
<circle cx="593.33" cy="60.90" r="1.4" fill="#3a9ad9"/>
<circle cx="581.72" cy="61.92" r="1.4" fill="#3cb44b"/>
<circle cx="589.91" cy="64.49" r="1.4" fill="#2eb37c"/>
<circle cx="506.27" cy="79.31" r="1.4" fill="#7b8ccc"/>
<circle cx="606.02" cy="63.32" r="1.4" fill="#3cb44b"/>
<circle cx="482.76" cy="98.17" r="1.4" fill="#a27bc4"/>
<circle cx="409.27" cy="158.37" r="1.4" fill="#3a9ad9"/>
<circle cx="606.23" cy="66.88" r="1.4" fill="#c76bbb"/>
<circle cx="442.81" cy="117.42" r="1.4" fill="#e0892e"/>
<circle cx="409.70" cy="147.30" r="1.4" fill="#3a9ad9"/>
<circle cx="545.67" cy="65.88" r="1.4" fill="#3a9ad9"/>
<circle cx="582.56" cy="65.60" r="1.4" fill="#ec6aa5"/>
<circle cx="630.78" cy="59.12" r="1.4" fill="#e0892e"/>
<circle cx="659.28" cy="59.87" r="1.4" fill="#7b8ccc"/>
<circle cx="639.23" cy="59.04" r="1.4" fill="#27b49c"/>
<circle cx="464.13" cy="100.73" r="1.4" fill="#3a9ad9"/>
<circle cx="499.63" cy="78.60" r="1.4" fill="#e0892e"/>
<circle cx="434.84" cy="123.81" r="1.4" fill="#27b49c"/>
<circle cx="551.10" cy="62.34" r="1.4" fill="#1ebbd7"/>
<circle cx="428.55" cy="129.09" r="1.4" fill="#1ebbd7"/>
<circle cx="458.86" cy="109.62" r="1.4" fill="#ec6aa5"/>
<circle cx="491.98" cy="90.58" r="1.4" fill="#8bad3f"/>
<circle cx="565.06" cy="65.39" r="1.4" fill="#8bad3f"/>
<circle cx="558.29" cy="56.81" r="1.4" fill="#1ebbd7"/>
<circle cx="641.21" cy="57.37" r="1.4" fill="#3a9ad9"/>
<circle cx="458.72" cy="111.10" r="1.4" fill="#7b8ccc"/>
<circle cx="649.69" cy="59.08" r="1.4" fill="#ec6aa5"/>
<circle cx="467.18" cy="102.13" r="1.4" fill="#c76bbb"/>
<circle cx="606.08" cy="62.04" r="1.4" fill="#2eb37c"/>
<circle cx="490.07" cy="75.46" r="1.4" fill="#1ebbd7"/>
<circle cx="612.84" cy="56.59" r="1.4" fill="#1ebbd7"/>
<circle cx="630.62" cy="58.75" r="1.4" fill="#2eb37c"/>
<circle cx="517.07" cy="65.14" r="1.4" fill="#1ebbd7"/>
<circle cx="532.70" cy="71.80" r="1.4" fill="#8bad3f"/>
<circle cx="640.24" cy="53.31" r="1.4" fill="#f07a6a"/>
<circle cx="475.25" cy="97.28" r="1.4" fill="#8bad3f"/>
<circle cx="614.40" cy="59.62" r="1.4" fill="#27b49c"/>
<circle cx="663.31" cy="59.52" r="1.4" fill="#c76bbb"/>
<circle cx="450.15" cy="112.12" r="1.4" fill="#3a9ad9"/>
<circle cx="436.46" cy="121.97" r="1.4" fill="#3a9ad9"/>
<circle cx="663.01" cy="58.29" r="1.4" fill="#2eb37c"/>
<circle cx="442.70" cy="108.91" r="1.4" fill="#1ebbd7"/>
<circle cx="511.40" cy="74.52" r="1.4" fill="#3a9ad9"/>
<circle cx="508.39" cy="82.25" r="1.4" fill="#8bad3f"/>
<circle cx="614.41" cy="58.43" r="1.4" fill="#e0892e"/>
<circle cx="565.09" cy="68.80" r="1.4" fill="#3cb44b"/>
<circle cx="410.16" cy="157.07" r="1.4" fill="#3cb44b"/>
<circle cx="401.52" cy="169.40" r="1.4" fill="#7b8ccc"/>
<circle cx="401.84" cy="170.43" r="1.4" fill="#8bad3f"/>
<circle cx="401.57" cy="164.10" r="1.4" fill="#1ebbd7"/>
<circle cx="442.91" cy="118.31" r="1.4" fill="#3cb44b"/>
<circle cx="442.29" cy="121.25" r="1.4" fill="#a27bc4"/>
<circle cx="638.76" cy="63.53" r="1.4" fill="#c76bbb"/>
<circle cx="622.65" cy="62.19" r="1.4" fill="#3cb44b"/>
<circle cx="470.55" cy="96.11" r="1.4" fill="#3a9ad9"/>
<circle cx="540.40" cy="75.88" r="1.4" fill="#c76bbb"/>
<circle cx="417.95" cy="148.75" r="1.4" fill="#3cb44b"/>
<circle cx="630.61" cy="61.26" r="1.4" fill="#c76bbb"/>
<circle cx="531.91" cy="77.38" r="1.4" fill="#a27bc4"/>
<circle cx="453.80" cy="121.30" r="1.4" fill="#f07a6a"/>
<circle cx="524.13" cy="65.63" r="1.4" fill="#e0892e"/>
<circle cx="620.90" cy="60.57" r="1.4" fill="#7b8ccc"/>
<circle cx="524.64" cy="76.68" r="1.4" fill="#8bad3f"/>
<circle cx="433.61" cy="128.01" r="1.4" fill="#a27bc4"/>
<circle cx="450.02" cy="118.19" r="1.4" fill="#a27bc4"/>
<circle cx="524.56" cy="78.81" r="1.4" fill="#c76bbb"/>
<circle cx="655.19" cy="59.06" r="1.4" fill="#2eb37c"/>
<circle cx="533.03" cy="69.53" r="1.4" fill="#27b49c"/>
<circle cx="526.56" cy="75.64" r="1.4" fill="#b0953a"/>
<circle cx="655.28" cy="59.99" r="1.4" fill="#8bad3f"/>
<circle cx="491.17" cy="83.73" r="1.4" fill="#3a9ad9"/>
<circle cx="449.15" cy="112.53" r="1.4" fill="#ec6aa5"/>
<circle cx="630.83" cy="60.68" r="1.4" fill="#3cb44b"/>
<circle cx="552.66" cy="67.34" r="1.4" fill="#3a9ad9"/>
<circle cx="476.26" cy="90.65" r="1.4" fill="#1ebbd7"/>
<circle cx="601.88" cy="51.78" r="1.4" fill="#f07a6a"/>
<circle cx="442.60" cy="118.93" r="1.4" fill="#c76bbb"/>
<circle cx="507.56" cy="80.19" r="1.4" fill="#b0953a"/>
<circle cx="631.72" cy="60.33" r="1.4" fill="#b0953a"/>
<circle cx="401.66" cy="173.84" r="1.4" fill="#ec6aa5"/>
<circle cx="477.73" cy="87.61" r="1.4" fill="#3a9ad9"/>
<circle cx="613.85" cy="65.40" r="1.4" fill="#a27bc4"/>
<circle cx="423.21" cy="138.33" r="1.4" fill="#3a9ad9"/>
<circle cx="510.48" cy="70.09" r="1.4" fill="#1ebbd7"/>
<circle cx="420.90" cy="139.39" r="1.4" fill="#ec6aa5"/>
<circle cx="516.29" cy="77.94" r="1.4" fill="#27b49c"/>
<circle cx="516.83" cy="78.39" r="1.4" fill="#b0953a"/>
<circle cx="557.32" cy="66.99" r="1.4" fill="#2eb37c"/>
<circle cx="589.15" cy="65.93" r="1.4" fill="#a27bc4"/>
<circle cx="525.83" cy="74.99" r="1.4" fill="#ec6aa5"/>
<circle cx="639.93" cy="55.99" r="1.4" fill="#1ebbd7"/>
<circle cx="660.30" cy="60.25" r="1.4" fill="#b0953a"/>
<circle cx="483.38" cy="89.48" r="1.4" fill="#3cb44b"/>
<circle cx="434.66" cy="121.58" r="1.4" fill="#2eb37c"/>
<circle cx="632.98" cy="53.82" r="1.4" fill="#1ebbd7"/>
<circle cx="603.20" cy="66.97" r="1.4" fill="#b0953a"/>
<circle cx="650.89" cy="60.69" r="1.4" fill="#b0953a"/>
<circle cx="426.17" cy="133.49" r="1.4" fill="#e0892e"/>
<circle cx="467.68" cy="99.10" r="1.4" fill="#27b49c"/>
<circle cx="429.00" cy="168.00" r="1.4" fill="#c76bbb"/>
<circle cx="409.93" cy="156.65" r="1.4" fill="#2eb37c"/>
<circle cx="572.61" cy="61.71" r="1.4" fill="#3a9ad9"/>
<circle cx="630.85" cy="60.21" r="1.4" fill="#27b49c"/>
<circle cx="524.42" cy="74.51" r="1.4" fill="#2eb37c"/>
<circle cx="663.61" cy="60.74" r="1.4" fill="#8bad3f"/>
<circle cx="555.34" cy="68.73" r="1.4" fill="#b0953a"/>
<circle cx="459.19" cy="108.11" r="1.4" fill="#c76bbb"/>
<circle cx="564.86" cy="59.27" r="1.4" fill="#1ebbd7"/>
<circle cx="410.94" cy="155.75" r="1.4" fill="#ec6aa5"/>
<circle cx="442.99" cy="122.38" r="1.4" fill="#27b49c"/>
<circle cx="506.33" cy="77.60" r="1.4" fill="#ec6aa5"/>
<circle cx="532.61" cy="69.61" r="1.4" fill="#3cb44b"/>
<circle cx="440.04" cy="117.02" r="1.4" fill="#f07a6a"/>
<circle cx="468.70" cy="87.53" r="1.4" fill="#f07a6a"/>
<circle cx="477.96" cy="94.67" r="1.4" fill="#7b8ccc"/>
<circle cx="426.49" cy="134.32" r="1.4" fill="#27b49c"/>
<circle cx="479.23" cy="98.64" r="1.4" fill="#b0953a"/>
<circle cx="565.34" cy="65.10" r="1.4" fill="#2eb37c"/>
<circle cx="581.56" cy="63.13" r="1.4" fill="#2eb37c"/>
<circle cx="589.62" cy="62.48" r="1.4" fill="#8bad3f"/>
<circle cx="630.29" cy="60.43" r="1.4" fill="#7b8ccc"/>
<circle cx="638.55" cy="58.73" r="1.4" fill="#e0892e"/>
<circle cx="409.75" cy="154.79" r="1.4" fill="#c76bbb"/>
<circle cx="515.48" cy="83.29" r="1.4" fill="#a27bc4"/>
<circle cx="449.71" cy="102.01" r="1.4" fill="#f07a6a"/>
<circle cx="549.07" cy="69.76" r="1.4" fill="#2eb37c"/>
<circle cx="430.04" cy="138.42" r="1.4" fill="#7b8ccc"/>
<circle cx="411.02" cy="162.12" r="1.4" fill="#7b8ccc"/>
<circle cx="540.62" cy="72.65" r="1.4" fill="#8bad3f"/>
<circle cx="535.01" cy="72.50" r="1.4" fill="#ec6aa5"/>
<circle cx="536.48" cy="73.13" r="1.4" fill="#b0953a"/>
<circle cx="483.63" cy="90.62" r="1.4" fill="#2eb37c"/>
<circle cx="659.24" cy="53.80" r="1.4" fill="#f07a6a"/>
<circle cx="647.03" cy="58.88" r="1.4" fill="#2eb37c"/>
<circle cx="545.12" cy="58.92" r="1.4" fill="#f07a6a"/>
<circle cx="516.11" cy="78.15" r="1.4" fill="#ec6aa5"/>
<circle cx="422.29" cy="142.07" r="1.4" fill="#1ebbd7"/>
<circle cx="573.58" cy="62.84" r="1.4" fill="#27b49c"/>
<circle cx="410.11" cy="163.01" r="1.4" fill="#27b49c"/>
<circle cx="572.81" cy="71.14" r="1.4" fill="#a27bc4"/>
<circle cx="557.18" cy="70.00" r="1.4" fill="#3cb44b"/>
<circle cx="516.14" cy="80.68" r="1.4" fill="#8bad3f"/>
<circle cx="497.63" cy="80.42" r="1.4" fill="#3a9ad9"/>
<circle cx="538.05" cy="64.60" r="1.4" fill="#1ebbd7"/>
<circle cx="525.06" cy="70.91" r="1.4" fill="#3a9ad9"/>
<circle cx="646.98" cy="59.37" r="1.4" fill="#27b49c"/>
<circle cx="411.46" cy="150.77" r="1.4" fill="#f07a6a"/>
<circle cx="426.41" cy="130.80" r="1.4" fill="#3cb44b"/>
<circle cx="525.87" cy="75.06" r="1.4" fill="#7b8ccc"/>
<circle cx="589.96" cy="67.16" r="1.4" fill="#c76bbb"/>
<circle cx="540.11" cy="76.82" r="1.4" fill="#a27bc4"/>
<circle cx="508.07" cy="74.26" r="1.4" fill="#e0892e"/>
<circle cx="487.76" cy="78.17" r="1.4" fill="#f07a6a"/>
<circle cx="647.27" cy="59.21" r="1.4" fill="#3cb44b"/>
<circle cx="497.10" cy="84.51" r="1.4" fill="#7b8ccc"/>
<circle cx="557.21" cy="61.78" r="1.4" fill="#e0892e"/>
<circle cx="606.47" cy="62.36" r="1.4" fill="#8bad3f"/>
<circle cx="459.40" cy="101.31" r="1.4" fill="#27b49c"/>
<circle cx="466.38" cy="102.34" r="1.4" fill="#a27bc4"/>
<circle cx="450.50" cy="109.90" r="1.4" fill="#e0892e"/>
<circle cx="487.37" cy="85.45" r="1.4" fill="#ec6aa5"/>
<circle cx="402.50" cy="170.11" r="1.4" fill="#3a9ad9"/>
<circle cx="417.91" cy="146.53" r="1.4" fill="#c76bbb"/>
<circle cx="430.48" cy="123.41" r="1.4" fill="#f07a6a"/>
<circle cx="620.86" cy="54.30" r="1.4" fill="#f07a6a"/>
<circle cx="654.80" cy="56.38" r="1.4" fill="#3a9ad9"/>
<circle cx="442.70" cy="120.20" r="1.4" fill="#2eb37c"/>
<circle cx="492.26" cy="84.08" r="1.4" fill="#27b49c"/>
<circle cx="421.63" cy="146.92" r="1.4" fill="#b0953a"/>
<circle cx="589.91" cy="63.57" r="1.4" fill="#3cb44b"/>
<circle cx="573.27" cy="67.87" r="1.4" fill="#c76bbb"/>
<circle cx="524.48" cy="75.87" r="1.4" fill="#3cb44b"/>
<circle cx="540.95" cy="68.23" r="1.4" fill="#3cb44b"/>
<circle cx="581.80" cy="68.90" r="1.4" fill="#c76bbb"/>
<circle cx="549.00" cy="71.56" r="1.4" fill="#c76bbb"/>
<circle cx="483.27" cy="96.26" r="1.4" fill="#c76bbb"/>
<circle cx="557.10" cy="72.54" r="1.4" fill="#c76bbb"/>
<circle cx="523.73" cy="82.56" r="1.4" fill="#a27bc4"/>
<circle cx="554.10" cy="58.58" r="1.4" fill="#f07a6a"/>
<circle cx="507.98" cy="80.57" r="1.4" fill="#3cb44b"/>
<circle cx="475.13" cy="95.29" r="1.4" fill="#3cb44b"/>
<circle cx="525.00" cy="82.70" r="1.4" fill="#a27bc4"/>
<circle cx="544.43" cy="72.07" r="1.4" fill="#7b8ccc"/>
<circle cx="468.24" cy="102.88" r="1.4" fill="#ec6aa5"/>
<circle cx="484.43" cy="83.35" r="1.4" fill="#3a9ad9"/>
<circle cx="649.34" cy="61.20" r="1.4" fill="#7b8ccc"/>
<circle cx="556.44" cy="73.56" r="1.4" fill="#a27bc4"/>
<circle cx="431.16" cy="128.11" r="1.4" fill="#b0953a"/>
<circle cx="611.61" cy="62.09" r="1.4" fill="#7b8ccc"/>
<circle cx="417.60" cy="134.80" r="1.4" fill="#7b8ccc"/>
<circle cx="597.95" cy="58.54" r="1.4" fill="#e0892e"/>
<circle cx="646.90" cy="59.66" r="1.4" fill="#8bad3f"/>
<circle cx="402.80" cy="172.62" r="1.4" fill="#b0953a"/>
<circle cx="467.40" cy="110.60" r="1.4" fill="#f07a6a"/>
<circle cx="488.35" cy="90.57" r="1.4" fill="#b0953a"/>
<circle cx="621.81" cy="63.60" r="1.4" fill="#b0953a"/>
<circle cx="601.84" cy="60.20" r="1.4" fill="#7b8ccc"/>
<circle cx="620.61" cy="56.13" r="1.4" fill="#3a9ad9"/>
<circle cx="611.67" cy="52.97" r="1.4" fill="#f07a6a"/>
<circle cx="439.55" cy="129.56" r="1.4" fill="#ec6aa5"/>
<circle cx="565.37" cy="70.19" r="1.4" fill="#c76bbb"/>
<circle cx="583.12" cy="65.20" r="1.4" fill="#7b8ccc"/>
<circle cx="581.54" cy="58.36" r="1.4" fill="#e0892e"/>
<circle cx="532.73" cy="68.67" r="1.4" fill="#e0892e"/>
<circle cx="564.59" cy="72.17" r="1.4" fill="#a27bc4"/>
<circle cx="620.88" cy="60.97" r="1.4" fill="#ec6aa5"/>
<circle cx="442.97" cy="123.74" r="1.4" fill="#8bad3f"/>
<circle cx="497.20" cy="84.69" r="1.4" fill="#ec6aa5"/>
<circle cx="516.40" cy="75.76" r="1.4" fill="#2eb37c"/>
<circle cx="538.73" cy="64.34" r="1.4" fill="#3a9ad9"/>
<circle cx="458.66" cy="104.50" r="1.4" fill="#e0892e"/>
<circle cx="458.90" cy="103.09" r="1.4" fill="#2eb37c"/>
<circle cx="646.65" cy="63.52" r="1.4" fill="#c76bbb"/>
<circle cx="475.62" cy="91.97" r="1.4" fill="#27b49c"/>
<circle cx="659.12" cy="58.83" r="1.4" fill="#ec6aa5"/>
<circle cx="436.90" cy="110.60" r="1.4" fill="#7b8ccc"/>
<circle cx="639.79" cy="59.18" r="1.4" fill="#ec6aa5"/>
<circle cx="592.49" cy="54.12" r="1.4" fill="#f07a6a"/>
<circle cx="586.68" cy="61.15" r="1.4" fill="#3a9ad9"/>
<circle cx="580.72" cy="69.57" r="1.4" fill="#a27bc4"/>
<circle cx="408.34" cy="158.67" r="1.4" fill="#1ebbd7"/>
<circle cx="554.10" cy="68.54" r="1.4" fill="#ec6aa5"/>
<circle cx="401.73" cy="167.27" r="1.4" fill="#f07a6a"/>
<circle cx="655.20" cy="61.98" r="1.4" fill="#c76bbb"/>
<circle cx="467.38" cy="107.92" r="1.4" fill="#8bad3f"/>
<circle cx="613.98" cy="64.45" r="1.4" fill="#c76bbb"/>
<circle cx="498.98" cy="89.09" r="1.4" fill="#a27bc4"/>
<circle cx="663.43" cy="60.48" r="1.4" fill="#3cb44b"/>
<circle cx="613.41" cy="57.91" r="1.4" fill="#3a9ad9"/>
<circle cx="478.17" cy="81.69" r="1.4" fill="#f07a6a"/>
<circle cx="612.72" cy="61.91" r="1.4" fill="#b0953a"/>
<circle cx="554.21" cy="68.67" r="1.4" fill="#7b8ccc"/>
<circle cx="592.51" cy="65.43" r="1.4" fill="#ec6aa5"/>
<circle cx="581.92" cy="62.29" r="1.4" fill="#27b49c"/>
<circle cx="518.28" cy="71.84" r="1.4" fill="#3a9ad9"/>
<circle cx="535.10" cy="69.33" r="1.4" fill="#7b8ccc"/>
<circle cx="614.39" cy="61.55" r="1.4" fill="#8bad3f"/>
<circle cx="450.73" cy="117.19" r="1.4" fill="#8bad3f"/>
<circle cx="585.26" cy="57.94" r="1.4" fill="#1ebbd7"/>
<circle cx="557.18" cy="70.78" r="1.4" fill="#8bad3f"/>
<circle cx="412.05" cy="167.90" r="1.4" fill="#b0953a"/>
<circle cx="579.34" cy="61.03" r="1.4" fill="#3a9ad9"/>
<circle cx="597.25" cy="67.59" r="1.4" fill="#a27bc4"/>
<circle cx="462.77" cy="97.87" r="1.4" fill="#1ebbd7"/>
<circle cx="622.28" cy="60.08" r="1.4" fill="#8bad3f"/>
<circle cx="475.30" cy="93.47" r="1.4" fill="#2eb37c"/>
<circle cx="516.39" cy="78.05" r="1.4" fill="#7b8ccc"/>
<circle cx="491.87" cy="82.20" r="1.4" fill="#2eb37c"/>
<circle cx="573.41" cy="68.30" r="1.4" fill="#ec6aa5"/>
<circle cx="496.84" cy="75.95" r="1.4" fill="#1ebbd7"/>
<circle cx="583.62" cy="64.23" r="1.4" fill="#b0953a"/>
<circle cx="516.08" cy="76.71" r="1.4" fill="#3cb44b"/>
<circle cx="541.08" cy="68.20" r="1.4" fill="#27b49c"/>
<circle cx="646.64" cy="56.96" r="1.4" fill="#e0892e"/>
<circle cx="491.70" cy="85.53" r="1.4" fill="#3cb44b"/>
<circle cx="661.42" cy="57.80" r="1.4" fill="#3a9ad9"/>
<circle cx="458.99" cy="103.51" r="1.4" fill="#3cb44b"/>
<circle cx="622.23" cy="58.59" r="1.4" fill="#e0892e"/>
<circle cx="532.44" cy="74.07" r="1.4" fill="#c76bbb"/>
<circle cx="475.00" cy="105.00" r="1.4" fill="#f07a6a"/>
<circle cx="598.26" cy="60.14" r="1.4" fill="#27b49c"/>
<circle cx="474.75" cy="103.26" r="1.4" fill="#a27bc4"/>
<circle cx="563.85" cy="68.59" r="1.4" fill="#7b8ccc"/>
<circle cx="630.47" cy="58.81" r="1.4" fill="#ec6aa5"/>
<circle cx="439.52" cy="123.57" r="1.4" fill="#7b8ccc"/>
<circle cx="525.90" cy="59.27" r="1.4" fill="#f07a6a"/>
<circle cx="549.49" cy="67.09" r="1.4" fill="#27b49c"/>
<circle cx="619.22" cy="56.48" r="1.4" fill="#1ebbd7"/>
<circle cx="504.44" cy="77.16" r="1.4" fill="#3a9ad9"/>
<circle cx="531.66" cy="67.41" r="1.4" fill="#3a9ad9"/>
<circle cx="420.59" cy="141.34" r="1.4" fill="#7b8ccc"/>
<circle cx="524.90" cy="69.45" r="1.4" fill="#27b49c"/>
<circle cx="600.06" cy="60.62" r="1.4" fill="#3a9ad9"/>
<circle cx="467.35" cy="102.13" r="1.4" fill="#3cb44b"/>
<circle cx="548.90" cy="67.33" r="1.4" fill="#3cb44b"/>
<circle cx="410.22" cy="157.09" r="1.4" fill="#8bad3f"/>
<circle cx="598.16" cy="61.75" r="1.4" fill="#2eb37c"/>
<circle cx="409.62" cy="160.22" r="1.4" fill="#e0892e"/>
<circle cx="597.82" cy="65.43" r="1.4" fill="#3cb44b"/>
<circle cx="458.34" cy="110.04" r="1.4" fill="#a27bc4"/>
<circle cx="402.01" cy="171.00" r="1.4" fill="#2eb37c"/>
<circle cx="605.70" cy="66.10" r="1.4" fill="#a27bc4"/>
<circle cx="655.26" cy="57.62" r="1.4" fill="#e0892e"/>
<circle cx="475.02" cy="99.32" r="1.4" fill="#c76bbb"/>
<circle cx="426.39" cy="137.05" r="1.4" fill="#2eb37c"/>
<circle cx="638.89" cy="62.14" r="1.4" fill="#8bad3f"/>
<circle cx="614.08" cy="59.99" r="1.4" fill="#2eb37c"/>
<circle cx="647.49" cy="58.96" r="1.4" fill="#3a9ad9"/>
<circle cx="483.10" cy="85.26" r="1.4" fill="#e0892e"/>
<circle cx="641.26" cy="61.76" r="1.4" fill="#b0953a"/>
<circle cx="506.86" cy="68.34" r="1.4" fill="#f07a6a"/>
<circle cx="416.04" cy="158.87" r="1.4" fill="#3a9ad9"/>
<circle cx="439.00" cy="131.40" r="1.4" fill="#f07a6a"/>
<circle cx="404.30" cy="182.30" r="1.4" fill="#f07a6a"/>
<circle cx="484.11" cy="84.60" r="1.4" fill="#27b49c"/>
<circle cx="597.76" cy="63.14" r="1.4" fill="#8bad3f"/>
<circle cx="593.66" cy="63.80" r="1.4" fill="#b0953a"/>
<circle cx="491.45" cy="81.61" r="1.4" fill="#e0892e"/>
<circle cx="524.41" cy="66.35" r="1.4" fill="#1ebbd7"/>
<circle cx="557.34" cy="64.19" r="1.4" fill="#27b49c"/>
<circle cx="573.18" cy="56.99" r="1.4" fill="#f07a6a"/>
<circle cx="435.86" cy="129.85" r="1.4" fill="#1ebbd7"/>
<circle cx="434.73" cy="122.64" r="1.4" fill="#c76bbb"/>
<circle cx="459.20" cy="96.99" r="1.4" fill="#f07a6a"/>
<circle cx="500.16" cy="79.01" r="1.4" fill="#27b49c"/>
<circle cx="592.45" cy="55.15" r="1.4" fill="#1ebbd7"/>
<circle cx="401.76" cy="166.35" r="1.4" fill="#3cb44b"/>
<circle cx="606.36" cy="60.32" r="1.4" fill="#27b49c"/>
<circle cx="662.95" cy="62.85" r="1.4" fill="#a27bc4"/>
<circle cx="491.36" cy="90.08" r="1.4" fill="#c76bbb"/>
<circle cx="637.92" cy="61.50" r="1.4" fill="#a27bc4"/>
<circle cx="418.39" cy="135.77" r="1.4" fill="#27b49c"/>
<circle cx="429.81" cy="125.78" r="1.4" fill="#3a9ad9"/>
<circle cx="573.22" cy="65.84" r="1.4" fill="#3cb44b"/>
<circle cx="629.81" cy="63.50" r="1.4" fill="#a27bc4"/>
<circle cx="425.97" cy="141.44" r="1.4" fill="#a27bc4"/>
<circle cx="450.50" cy="115.83" r="1.4" fill="#c76bbb"/>
<circle cx="606.07" cy="59.17" r="1.4" fill="#e0892e"/>
<circle cx="483.54" cy="93.13" r="1.4" fill="#8bad3f"/>
<circle cx="606.81" cy="57.81" r="1.4" fill="#3a9ad9"/>
<circle cx="460.01" cy="109.08" r="1.4" fill="#b0953a"/>
<circle cx="450.09" cy="113.05" r="1.4" fill="#b0953a"/>
<circle cx="573.38" cy="66.99" r="1.4" fill="#7b8ccc"/>
<circle cx="581.62" cy="64.90" r="1.4" fill="#8bad3f"/>
<circle cx="449.51" cy="109.07" r="1.4" fill="#1ebbd7"/>
<circle cx="420.65" cy="141.03" r="1.4" fill="#f07a6a"/>
<circle cx="401.06" cy="176.35" r="1.4" fill="#a27bc4"/>
<circle cx="508.18" cy="78.69" r="1.4" fill="#27b49c"/>
<circle cx="589.67" cy="57.71" r="1.4" fill="#e0892e"/>
<circle cx="401.69" cy="174.09" r="1.4" fill="#e0892e"/>
<circle cx="499.54" cy="89.15" r="1.4" fill="#c76bbb"/>
<circle cx="458.83" cy="110.46" r="1.4" fill="#8bad3f"/>
<circle cx="450.63" cy="109.15" r="1.4" fill="#3cb44b"/>
<circle cx="622.44" cy="63.71" r="1.4" fill="#c76bbb"/>
<circle cx="660.46" cy="54.33" r="1.4" fill="#1ebbd7"/>
<circle cx="630.37" cy="53.21" r="1.4" fill="#f07a6a"/>
<circle cx="573.26" cy="62.96" r="1.4" fill="#2eb37c"/>
<circle cx="544.46" cy="66.49" r="1.4" fill="#ec6aa5"/>
<circle cx="418.31" cy="141.67" r="1.4" fill="#e0892e"/>
<circle cx="548.45" cy="77.55" r="1.4" fill="#a27bc4"/>
<circle cx="451.11" cy="112.20" r="1.4" fill="#2eb37c"/>
<circle cx="622.36" cy="60.82" r="1.4" fill="#2eb37c"/>
<circle cx="622.50" cy="58.45" r="1.4" fill="#27b49c"/>
<circle cx="531.21" cy="67.62" r="1.4" fill="#1ebbd7"/>
<circle cx="499.63" cy="87.38" r="1.4" fill="#3cb44b"/>
<circle cx="578.59" cy="58.85" r="1.4" fill="#1ebbd7"/>
<circle cx="540.63" cy="67.46" r="1.4" fill="#2eb37c"/>
<circle cx="565.43" cy="63.57" r="1.4" fill="#27b49c"/>
<circle cx="633.85" cy="58.91" r="1.4" fill="#3a9ad9"/>
<circle cx="663.78" cy="58.40" r="1.4" fill="#27b49c"/>
<circle cx="443.56" cy="120.35" r="1.4" fill="#3a9ad9"/>
<circle cx="597.87" cy="64.09" r="1.4" fill="#c76bbb"/>
<circle cx="548.99" cy="70.53" r="1.4" fill="#8bad3f"/>
<circle cx="540.56" cy="64.94" r="1.4" fill="#e0892e"/>
<circle cx="434.86" cy="127.81" r="1.4" fill="#8bad3f"/>
<circle cx="572.10" cy="59.55" r="1.4" fill="#1ebbd7"/>
<circle cx="423.30" cy="124.70" r="1.4" fill="#7b8ccc"/>
<circle cx="409.13" cy="167.74" r="1.4" fill="#a27bc4"/>
<circle cx="653.65" cy="56.40" r="1.4" fill="#1ebbd7"/>
<circle cx="548.54" cy="64.68" r="1.4" fill="#e0892e"/>
<circle cx="532.73" cy="70.95" r="1.4" fill="#2eb37c"/>
<circle cx="402.00" cy="172.66" r="1.4" fill="#27b49c"/>
<circle cx="456.79" cy="104.09" r="1.4" fill="#3a9ad9"/>
<circle cx="426.51" cy="133.18" r="1.4" fill="#8bad3f"/>
<circle cx="497.87" cy="84.13" r="1.4" fill="#b0953a"/>
<circle cx="434.34" cy="116.46" r="1.4" fill="#e0892e"/>
<circle cx="516.43" cy="80.32" r="1.4" fill="#c76bbb"/>
<circle cx="668.40" cy="56.54" r="1.4" fill="#3a9ad9"/>
<circle cx="434.48" cy="126.19" r="1.4" fill="#3cb44b"/>
<circle cx="621.83" cy="67.59" r="1.4" fill="#a27bc4"/>
<circle cx="563.63" cy="66.09" r="1.4" fill="#ec6aa5"/>
<circle cx="444.80" cy="104.30" r="1.4" fill="#7b8ccc"/>
<circle cx="649.83" cy="54.99" r="1.4" fill="#f07a6a"/>
<circle cx="535.06" cy="59.18" r="1.4" fill="#f07a6a"/>
<circle cx="516.34" cy="70.71" r="1.4" fill="#e0892e"/>
<circle cx="654.71" cy="62.20" r="1.4" fill="#a27bc4"/>
<circle cx="655.18" cy="60.03" r="1.4" fill="#27b49c"/>
<circle cx="456.16" cy="100.86" r="1.4" fill="#1ebbd7"/>
<circle cx="490.81" cy="89.66" r="1.4" fill="#a27bc4"/>
<circle cx="582.73" cy="53.43" r="1.4" fill="#f07a6a"/>
<circle cx="646.58" cy="54.87" r="1.4" fill="#1ebbd7"/>
<circle cx="450.90" cy="105.76" r="1.4" fill="#27b49c"/>
<circle cx="545.98" cy="71.93" r="1.4" fill="#b0953a"/>
<circle cx="639.08" cy="59.62" r="1.4" fill="#2eb37c"/>
<circle cx="469.35" cy="103.51" r="1.4" fill="#b0953a"/>
<circle cx="418.32" cy="141.18" r="1.4" fill="#2eb37c"/>
<circle cx="627.22" cy="58.43" r="1.4" fill="#3a9ad9"/>
<circle cx="573.57" cy="62.15" r="1.4" fill="#e0892e"/>
<circle cx="559.43" cy="64.18" r="1.4" fill="#3a9ad9"/>
<circle cx="487.65" cy="91.01" r="1.4" fill="#7b8ccc"/>
<circle cx="467.37" cy="96.72" r="1.4" fill="#2eb37c"/>
<circle cx="667.04" cy="56.82" r="1.4" fill="#1ebbd7"/>
<circle cx="503.65" cy="72.18" r="1.4" fill="#1ebbd7"/>
<circle cx="611.23" cy="60.96" r="1.4" fill="#ec6aa5"/>
<circle cx="440.64" cy="126.17" r="1.4" fill="#b0953a"/>
<circle cx="508.20" cy="84.47" r="1.4" fill="#c76bbb"/>
<circle cx="601.69" cy="60.75" r="1.4" fill="#ec6aa5"/>
<circle cx="469.54" cy="90.84" r="1.4" fill="#1ebbd7"/>
<circle cx="563.75" cy="56.30" r="1.4" fill="#f07a6a"/>
<path d="M401.80,172.80 L406.24,165.19 L410.67,158.07 L415.11,151.40 L419.54,145.16 L423.98,139.32 L428.41,133.85 L432.85,128.74 L437.28,123.95 L441.72,119.47 L446.15,115.27 L450.58,111.35 L455.02,107.67 L459.45,104.23 L463.89,101.01 L468.32,98.00 L472.76,95.18 L477.19,92.54 L481.63,90.07 L486.06,87.76 L490.50,85.59 L494.94,83.57 L499.37,81.67 L503.81,79.90 L508.24,78.24 L512.67,76.68 L517.11,75.23 L521.54,73.87 L525.98,72.59 L530.41,71.40 L534.85,70.28 L539.28,69.24 L543.72,68.26 L548.15,67.34 L552.59,66.49 L557.02,65.69 L561.46,64.94 L565.89,64.23 L570.33,63.58 L574.76,62.96 L579.20,62.39 L583.63,61.85 L588.07,61.34 L592.50,60.87 L596.94,60.43 L601.38,60.01 L605.81,59.63 L610.25,59.26 L614.68,58.93 L619.12,58.61 L623.55,58.31 L627.99,58.03 L632.42,57.77 L636.86,57.53 L641.29,57.30 L645.73,57.09 L650.16,56.89 L654.60,56.70 L659.03,56.53 L663.46,56.36 L667.90,56.21" fill="none" stroke="#4a6ab5" stroke-width="2.5" stroke-linecap="round"/>
<text x="492.20" y="223.60" font-size="10.0" fill="#231f20" text-anchor="start" textLength="85.90" lengthAdjust="spacingAndGlyphs">CRE ratio ( top/total)</text>
<circle cx="374.30" cy="233.20" r="2.9" fill="#f07a6a"/>
<text x="384.40" y="236.70" font-size="8.6" fill="#231f20" text-anchor="start" textLength="26.50" lengthAdjust="spacingAndGlyphs">AGGT3</text>
<circle cx="374.30" cy="244.10" r="2.9" fill="#e0892e"/>
<text x="384.40" y="246.60" font-size="8.6" fill="#231f20" text-anchor="start" textLength="25.60" lengthAdjust="spacingAndGlyphs">CLGT3</text>
<circle cx="425.40" cy="233.20" r="2.9" fill="#27b49c"/>
<text x="435.70" y="236.70" font-size="8.6" fill="#231f20" text-anchor="start" textLength="22.40" lengthAdjust="spacingAndGlyphs">MGT4</text>
<circle cx="425.40" cy="244.10" r="2.9" fill="#1ebbd7"/>
<text x="435.70" y="246.60" font-size="8.6" fill="#231f20" text-anchor="start" textLength="25.30" lengthAdjust="spacingAndGlyphs">PNGT3</text>
<circle cx="475.50" cy="232.40" r="2.9" fill="#7b8ccc"/>
<text x="485.80" y="236.20" font-size="8.6" fill="#231f20" text-anchor="start" textLength="19.80" lengthAdjust="spacingAndGlyphs">SGT4</text>
<circle cx="475.50" cy="243.60" r="2.9" fill="#a27bc4"/>
<text x="485.80" y="246.30" font-size="8.6" fill="#231f20" text-anchor="start" textLength="21.50" lengthAdjust="spacingAndGlyphs">SGTm</text>
<circle cx="522.80" cy="232.90" r="2.9" fill="#3a9ad9"/>
<text x="532.50" y="236.90" font-size="8.6" fill="#231f20" text-anchor="start" textLength="19.70" lengthAdjust="spacingAndGlyphs">SGT2</text>
<circle cx="522.80" cy="244.20" r="2.9" fill="#c76bbb"/>
<text x="532.50" y="246.60" font-size="8.6" fill="#231f20" text-anchor="start" textLength="29.90" lengthAdjust="spacingAndGlyphs">TEXMIN</text>
<circle cx="577.70" cy="230.90" r="2.9" fill="#ec6aa5"/>
<text x="587.90" y="234.90" font-size="8.6" fill="#231f20" text-anchor="start" textLength="34.50" lengthAdjust="spacingAndGlyphs">TEXNFAT</text>
<circle cx="577.70" cy="242.40" r="2.9" fill="#b0953a"/>
<text x="588.70" y="246.00" font-size="8.6" fill="#231f20" text-anchor="start" textLength="30.60" lengthAdjust="spacingAndGlyphs">COVGT1</text>
<circle cx="638.60" cy="230.80" r="2.9" fill="#8bad3f"/>
<text x="648.60" y="234.90" font-size="8.6" fill="#231f20" text-anchor="start" textLength="31.60" lengthAdjust="spacingAndGlyphs">COVGT2</text>
<circle cx="638.60" cy="242.50" r="2.9" fill="#3cb44b"/>
<text x="648.60" y="246.10" font-size="8.6" fill="#231f20" text-anchor="start" textLength="31.60" lengthAdjust="spacingAndGlyphs">COVGT3</text>
<circle cx="638.60" cy="253.30" r="2.9" fill="#2eb37c"/>
<text x="648.60" y="257.30" font-size="8.6" fill="#231f20" text-anchor="start" textLength="31.60" lengthAdjust="spacingAndGlyphs">COVGT4</text>
<text x="0.70" y="308.80" font-size="22" fill="#231f20" text-anchor="start" textLength="9.00" lengthAdjust="spacingAndGlyphs">c</text>
<text x="122.70" y="299.40" font-size="14.0" fill="#231f20" text-anchor="start" textLength="116.50" lengthAdjust="spacingAndGlyphs">mesenchymal GBM</text>
<text x="115.10" y="316.60" font-size="14.0" fill="#231f20" text-anchor="start" textLength="129.40" lengthAdjust="spacingAndGlyphs">phenotypic-potential</text>
<text x="38.50" y="352.65" font-size="8.3" fill="#5e5f61" text-anchor="end" textLength="11.60" lengthAdjust="spacingAndGlyphs">0.5</text>
<text x="38.50" y="380.65" font-size="8.3" fill="#5e5f61" text-anchor="end" textLength="11.60" lengthAdjust="spacingAndGlyphs">0.4</text>
<text x="38.50" y="408.45" font-size="8.3" fill="#5e5f61" text-anchor="end" textLength="11.60" lengthAdjust="spacingAndGlyphs">0.3</text>
<text x="38.50" y="436.45" font-size="8.3" fill="#5e5f61" text-anchor="end" textLength="11.60" lengthAdjust="spacingAndGlyphs">0.2</text>
<text x="38.50" y="464.45" font-size="8.3" fill="#5e5f61" text-anchor="end" textLength="11.60" lengthAdjust="spacingAndGlyphs">0.1</text>
<text x="38.50" y="492.75" font-size="8.3" fill="#5e5f61" text-anchor="end" textLength="11.60" lengthAdjust="spacingAndGlyphs">0.0</text>
<text x="15.30" y="426.80" font-size="11.0" fill="#231f20" text-anchor="middle" textLength="34.00" lengthAdjust="spacingAndGlyphs" transform="rotate(-90 15.30 426.80)">QScore</text>
<text x="44.50" y="504.20" font-size="8.5" fill="#5e5f61" text-anchor="middle">0</text>
<text x="118.90" y="504.20" font-size="8.5" fill="#5e5f61" text-anchor="middle">3000</text>
<text x="191.20" y="504.20" font-size="8.5" fill="#5e5f61" text-anchor="middle">6000</text>
<text x="263.00" y="504.20" font-size="8.5" fill="#5e5f61" text-anchor="middle">9000</text>
<text x="141.40" y="516.90" font-size="11.0" fill="#231f20" text-anchor="start" textLength="46.20" lengthAdjust="spacingAndGlyphs">SignScore</text>
<line x1="36.7" y1="444.2" x2="316" y2="444.2" stroke="#d6d6d6" stroke-width="1.15" stroke-dasharray="5.3,5.1"/>
<line x1="175.3" y1="344" x2="175.3" y2="497.5" stroke="#d6d6d6" stroke-width="1.15" stroke-dasharray="5.3,5.1"/>
<path d="M48.60,340.00 C50.50,339.93 55.60,340.00 60.00,339.60 C64.40,339.20 70.00,338.13 75.00,337.60 C80.00,337.07 85.00,336.67 90.00,336.40 C95.00,336.13 100.00,336.00 105.00,336.00 C110.00,336.00 114.17,336.13 120.00,336.40 C125.83,336.67 133.33,337.20 140.00,337.60 C146.67,338.00 152.50,338.47 160.00,338.80 C167.50,339.13 177.33,339.40 185.00,339.60 C192.67,339.80 202.50,339.93 206.00,340.00 Z" fill="#838aa5"/>
<path d="M244.10,339.90 C245.08,339.88 248.30,339.90 250.00,339.75 C251.70,339.60 252.90,339.74 254.30,339.00 C255.70,338.26 257.03,336.45 258.40,335.30 C259.77,334.15 261.22,332.87 262.50,332.10 C263.78,331.33 264.73,330.82 266.10,330.70 C267.47,330.58 269.43,331.48 270.70,331.40 C271.97,331.32 272.52,330.87 273.70,330.20 C274.88,329.53 276.52,328.08 277.80,327.40 C279.08,326.72 280.28,326.05 281.40,326.10 C282.52,326.15 283.40,326.67 284.50,327.70 C285.60,328.73 286.73,330.68 288.00,332.30 C289.27,333.92 290.82,336.23 292.10,337.40 C293.38,338.57 294.00,338.88 295.70,339.30 C297.40,339.72 301.20,339.80 302.30,339.90 Z" fill="#916b65"/>
<path d="M316.9,348 L342,348.3 C339,349.5 332,351 327.4,352.9 C323,354.5 322.5,356 324,357 C326,358 329.5,359.5 329.2,360.5 C328.8,362 324,363.5 320.4,365 C318,366.3 317.3,368 317,370 L316.6,374 Z" fill="#916b65"/>
<path d="M316.9,445.7 C318.5,449 320.8,453 321.4,456.5 C321.9,459.5 321.5,462 322.3,463.6 C323,465 324,466 324.8,466.6 C327,468.5 329.5,470.5 330.2,473 C331,476 329.5,479 327.6,481.3 C325,483.8 322.5,485.5 320.8,486.9 C319.5,488 318.6,489.5 318,490.4 L316.9,490.4 Z" fill="#838aa5"/>
<circle cx="91.50" cy="481.50" r="2.45" fill="#a8cc8a"/>
<circle cx="93.90" cy="480.30" r="2.45" fill="#a8cc8a"/>
<circle cx="95.60" cy="482.60" r="2.45" fill="#a8cc8a"/>
<circle cx="100.30" cy="479.10" r="2.45" fill="#a8cc8a"/>
<circle cx="103.80" cy="478.00" r="2.45" fill="#a8cc8a"/>
<circle cx="108.50" cy="475.60" r="2.45" fill="#a8cc8a"/>
<circle cx="111.40" cy="475.00" r="2.45" fill="#a8cc8a"/>
<circle cx="113.10" cy="480.30" r="2.45" fill="#a8cc8a"/>
<circle cx="116.10" cy="473.30" r="2.45" fill="#a8cc8a"/>
<circle cx="118.40" cy="470.90" r="2.45" fill="#a8cc8a"/>
<circle cx="121.90" cy="469.80" r="2.45" fill="#a8cc8a"/>
<circle cx="123.60" cy="469.20" r="2.45" fill="#a8cc8a"/>
<circle cx="130.10" cy="464.00" r="2.45" fill="#a8cc8a"/>
<circle cx="137.10" cy="480.30" r="2.45" fill="#a8cc8a"/>
<circle cx="111.40" cy="469.80" r="2.45" fill="#a8cc8a"/>
<circle cx="137.70" cy="462.80" r="2.45" fill="#a8cc8a"/>
<circle cx="137.70" cy="480.40" r="2.45" fill="#a8cc8a"/>
<circle cx="142.80" cy="479.60" r="2.45" fill="#a8cc8a"/>
<circle cx="143.70" cy="477.20" r="2.45" fill="#a8cc8a"/>
<circle cx="146.90" cy="476.40" r="2.45" fill="#a8cc8a"/>
<circle cx="141.20" cy="472.90" r="2.45" fill="#a8cc8a"/>
<circle cx="152.50" cy="477.20" r="2.45" fill="#a8cc8a"/>
<circle cx="154.10" cy="473.20" r="2.45" fill="#a8cc8a"/>
<circle cx="153.80" cy="472.40" r="2.45" fill="#a8cc8a"/>
<circle cx="145.30" cy="468.00" r="2.45" fill="#a8cc8a"/>
<circle cx="158.60" cy="467.10" r="2.45" fill="#a8cc8a"/>
<circle cx="161.30" cy="461.90" r="2.45" fill="#a8cc8a"/>
<circle cx="160.50" cy="476.10" r="2.45" fill="#a8cc8a"/>
<circle cx="162.90" cy="472.40" r="2.45" fill="#a8cc8a"/>
<circle cx="166.10" cy="471.90" r="2.45" fill="#a8cc8a"/>
<circle cx="169.30" cy="471.90" r="2.45" fill="#a8cc8a"/>
<circle cx="172.60" cy="471.60" r="2.45" fill="#a8cc8a"/>
<circle cx="175.80" cy="471.60" r="2.45" fill="#a8cc8a"/>
<circle cx="179.00" cy="471.20" r="2.45" fill="#a8cc8a"/>
<circle cx="182.20" cy="470.00" r="2.45" fill="#a8cc8a"/>
<circle cx="185.40" cy="468.00" r="2.45" fill="#a8cc8a"/>
<circle cx="164.50" cy="473.20" r="2.45" fill="#a8cc8a"/>
<circle cx="167.50" cy="473.50" r="2.45" fill="#a8cc8a"/>
<circle cx="171.00" cy="473.20" r="2.45" fill="#a8cc8a"/>
<circle cx="174.00" cy="473.00" r="2.45" fill="#a8cc8a"/>
<circle cx="181.10" cy="455.80" r="2.45" fill="#a8cc8a"/>
<circle cx="193.40" cy="461.60" r="2.45" fill="#a8cc8a"/>
<circle cx="198.30" cy="463.90" r="2.45" fill="#a8cc8a"/>
<circle cx="206.30" cy="459.50" r="2.45" fill="#a8cc8a"/>
<circle cx="206.80" cy="462.70" r="2.45" fill="#a8cc8a"/>
<circle cx="213.50" cy="454.70" r="2.45" fill="#a8cc8a"/>
<circle cx="214.30" cy="455.50" r="2.45" fill="#a8cc8a"/>
<circle cx="225.60" cy="453.60" r="2.45" fill="#a8cc8a"/>
<circle cx="130.00" cy="459.50" r="2.45" fill="#a8cc8a"/>
<circle cx="130.80" cy="463.50" r="2.45" fill="#a8cc8a"/>
<circle cx="134.80" cy="464.80" r="2.45" fill="#a8cc8a"/>
<circle cx="98.00" cy="481.00" r="2.45" fill="#a8cc8a"/>
<circle cx="106.00" cy="477.00" r="2.45" fill="#a8cc8a"/>
<circle cx="127.00" cy="466.00" r="2.45" fill="#a8cc8a"/>
<circle cx="150.00" cy="476.00" r="2.45" fill="#a8cc8a"/>
<circle cx="156.00" cy="471.00" r="2.45" fill="#a8cc8a"/>
<circle cx="133.00" cy="476.00" r="2.45" fill="#a8cc8a"/>
<circle cx="147.00" cy="474.00" r="2.45" fill="#a8cc8a"/>
<circle cx="88.60" cy="471.50" r="1.5" fill="#a8cc8a"/>
<circle cx="110.20" cy="455.80" r="1.5" fill="#a8cc8a"/>
<circle cx="62.90" cy="489.00" r="1.5" fill="#a8cc8a"/>
<circle cx="49.60" cy="490.40" r="1.5" fill="#a8cc8a"/>
<circle cx="157.00" cy="444.60" r="1.5" fill="#a8cc8a"/>
<circle cx="234.20" cy="394.20" r="1.5" fill="#a8cc8a"/>
<circle cx="121.10" cy="445.60" r="1.25" fill="#5b92c2"/>
<circle cx="128.70" cy="449.90" r="1.25" fill="#5b92c2"/>
<circle cx="131.20" cy="449.10" r="1.25" fill="#5b92c2"/>
<circle cx="103.40" cy="454.70" r="1.25" fill="#5b92c2"/>
<circle cx="112.00" cy="454.20" r="1.25" fill="#5b92c2"/>
<circle cx="115.50" cy="455.80" r="1.25" fill="#5b92c2"/>
<circle cx="117.20" cy="455.40" r="1.25" fill="#5b92c2"/>
<circle cx="123.10" cy="457.80" r="1.25" fill="#5b92c2"/>
<circle cx="125.40" cy="461.00" r="1.25" fill="#5b92c2"/>
<circle cx="127.70" cy="458.50" r="1.25" fill="#5b92c2"/>
<circle cx="129.80" cy="456.40" r="1.25" fill="#5b92c2"/>
<circle cx="130.70" cy="457.50" r="1.25" fill="#5b92c2"/>
<circle cx="134.50" cy="456.40" r="1.25" fill="#5b92c2"/>
<circle cx="106.10" cy="465.50" r="1.25" fill="#5b92c2"/>
<circle cx="109.10" cy="467.40" r="1.25" fill="#5b92c2"/>
<circle cx="103.80" cy="467.40" r="1.25" fill="#5b92c2"/>
<circle cx="95.00" cy="469.80" r="1.25" fill="#5b92c2"/>
<circle cx="102.00" cy="469.80" r="1.25" fill="#5b92c2"/>
<circle cx="105.00" cy="471.00" r="1.25" fill="#5b92c2"/>
<circle cx="90.60" cy="472.10" r="1.25" fill="#5b92c2"/>
<circle cx="98.50" cy="473.90" r="1.25" fill="#5b92c2"/>
<circle cx="97.40" cy="475.00" r="1.25" fill="#5b92c2"/>
<circle cx="86.30" cy="476.80" r="1.25" fill="#5b92c2"/>
<circle cx="88.00" cy="477.40" r="1.25" fill="#5b92c2"/>
<circle cx="82.80" cy="479.70" r="1.25" fill="#5b92c2"/>
<circle cx="76.40" cy="480.90" r="1.25" fill="#5b92c2"/>
<circle cx="78.70" cy="480.30" r="1.25" fill="#5b92c2"/>
<circle cx="102.60" cy="475.60" r="1.25" fill="#5b92c2"/>
<circle cx="126.60" cy="466.90" r="1.25" fill="#5b92c2"/>
<circle cx="123.60" cy="473.90" r="1.25" fill="#5b92c2"/>
<circle cx="65.80" cy="484.60" r="1.25" fill="#5b92c2"/>
<circle cx="67.20" cy="484.60" r="1.25" fill="#5b92c2"/>
<circle cx="64.10" cy="488.50" r="1.25" fill="#5b92c2"/>
<circle cx="118.40" cy="472.10" r="1.25" fill="#5b92c2"/>
<circle cx="113.10" cy="477.40" r="1.25" fill="#5b92c2"/>
<circle cx="132.40" cy="469.20" r="1.25" fill="#5b92c2"/>
<circle cx="131.30" cy="449.10" r="1.25" fill="#5b92c2"/>
<circle cx="134.50" cy="456.30" r="1.25" fill="#5b92c2"/>
<circle cx="130.80" cy="457.10" r="1.25" fill="#5b92c2"/>
<circle cx="142.80" cy="450.70" r="1.25" fill="#5b92c2"/>
<circle cx="58.40" cy="487.00" r="1.25" fill="#5b92c2"/>
<circle cx="92.00" cy="476.00" r="1.25" fill="#5b92c2"/>
<circle cx="84.00" cy="479.00" r="1.25" fill="#5b92c2"/>
<circle cx="119.00" cy="476.00" r="1.25" fill="#5b92c2"/>
<circle cx="128.00" cy="472.00" r="1.25" fill="#5b92c2"/>
<circle cx="230.10" cy="395.40" r="1.6" fill="#5b92c2"/>
<circle cx="220.40" cy="412.10" r="1.6" fill="#5b92c2"/>
<circle cx="218.30" cy="415.30" r="1.6" fill="#5b92c2"/>
<circle cx="206.10" cy="422.30" r="1.6" fill="#5b92c2"/>
<circle cx="203.00" cy="424.30" r="1.6" fill="#5b92c2"/>
<circle cx="192.30" cy="432.80" r="1.6" fill="#5b92c2"/>
<circle cx="195.60" cy="433.00" r="1.6" fill="#5b92c2"/>
<circle cx="189.70" cy="438.10" r="1.6" fill="#5b92c2"/>
<circle cx="186.60" cy="439.70" r="1.6" fill="#5b92c2"/>
<circle cx="162.10" cy="434.60" r="1.6" fill="#5b92c2"/>
<circle cx="166.10" cy="433.40" r="1.6" fill="#5b92c2"/>
<circle cx="154.90" cy="444.60" r="1.6" fill="#5b92c2"/>
<circle cx="171.40" cy="449.40" r="1.6" fill="#5b92c2"/>
<circle cx="167.70" cy="452.30" r="1.6" fill="#5b92c2"/>
<circle cx="179.50" cy="440.30" r="1.6" fill="#5b92c2"/>
<circle cx="155.60" cy="444.40" r="1.6" fill="#5b92c2"/>
<circle cx="54.40" cy="489.60" r="1.65" fill="#415275"/>
<circle cx="80.40" cy="480.90" r="1.65" fill="#415275"/>
<circle cx="88.00" cy="481.50" r="1.65" fill="#415275"/>
<circle cx="96.20" cy="477.40" r="1.65" fill="#415275"/>
<circle cx="98.00" cy="478.00" r="1.65" fill="#415275"/>
<circle cx="104.40" cy="478.50" r="1.65" fill="#415275"/>
<circle cx="106.10" cy="472.70" r="1.65" fill="#415275"/>
<circle cx="114.90" cy="475.00" r="1.65" fill="#415275"/>
<circle cx="125.40" cy="471.50" r="1.65" fill="#415275"/>
<circle cx="128.90" cy="468.60" r="1.65" fill="#415275"/>
<circle cx="134.20" cy="466.90" r="1.65" fill="#415275"/>
<circle cx="137.70" cy="465.10" r="1.65" fill="#415275"/>
<circle cx="163.70" cy="452.00" r="1.65" fill="#415275"/>
<circle cx="158.60" cy="458.40" r="1.65" fill="#415275"/>
<circle cx="160.50" cy="459.00" r="1.65" fill="#415275"/>
<circle cx="134.80" cy="467.10" r="1.65" fill="#415275"/>
<circle cx="137.20" cy="466.00" r="1.65" fill="#415275"/>
<circle cx="130.00" cy="468.40" r="1.65" fill="#415275"/>
<circle cx="230.40" cy="407.50" r="1.75" fill="#cb5955"/>
<circle cx="212.50" cy="421.50" r="1.75" fill="#cb5955"/>
<circle cx="200.20" cy="430.70" r="1.75" fill="#cb5955"/>
<circle cx="165.00" cy="449.10" r="1.75" fill="#cb5955"/>
<circle cx="163.40" cy="459.00" r="1.75" fill="#cb5955"/>
<circle cx="167.30" cy="460.70" r="1.75" fill="#cb5955"/>
<circle cx="138.80" cy="468.00" r="1.75" fill="#cb5955"/>
<circle cx="132.90" cy="473.50" r="1.75" fill="#cb5955"/>
<text x="70.10" y="489.79" font-size="7.1" fill="#415275" text-anchor="start" textLength="17.20" lengthAdjust="spacingAndGlyphs">ACGT1</text>
<text x="115.00" y="481.88" font-size="7.1" fill="#cb5955" text-anchor="start" textLength="18.20" lengthAdjust="spacingAndGlyphs">PNGT2</text>
<text x="139.20" y="464.88" font-size="7.1" fill="#cb5955" text-anchor="start" textLength="17.70" lengthAdjust="spacingAndGlyphs">PNGT1</text>
<text x="143.60" y="456.99" font-size="7.1" fill="#cb5955" text-anchor="start" textLength="16.70" lengthAdjust="spacingAndGlyphs">CLGT2</text>
<text x="165.50" y="447.19" font-size="7.1" fill="#cb5955" text-anchor="start" textLength="18.10" lengthAdjust="spacingAndGlyphs">PNGT3</text>
<text x="167.60" y="468.49" font-size="7.1" fill="#cb5955" text-anchor="start" textLength="17.10" lengthAdjust="spacingAndGlyphs">CLGT1</text>
<text x="226.80" y="419.38" font-size="7.1" fill="#cb5955" text-anchor="start" textLength="17.30" lengthAdjust="spacingAndGlyphs">CLGT3</text>
<circle cx="265.50" cy="348.50" r="1.8" fill="#5e2a2e"/>
<circle cx="284.90" cy="348.00" r="1.8" fill="#5e2a2e"/>
<circle cx="277.90" cy="360.10" r="1.8" fill="#5e2a2e"/>
<text x="248.90" y="356.38" font-size="7.1" fill="#5e2a2e" text-anchor="start" textLength="15.40" lengthAdjust="spacingAndGlyphs">MGT1</text>
<text x="289.10" y="348.99" font-size="7.1" fill="#5e2a2e" text-anchor="start" textLength="16.10" lengthAdjust="spacingAndGlyphs">MGT4</text>
<text x="279.70" y="369.09" font-size="7.1" fill="#5e2a2e" text-anchor="start" textLength="15.60" lengthAdjust="spacingAndGlyphs">MGT2</text>
<text x="364.20" y="311.00" font-size="21" fill="#231f20" text-anchor="start">d</text>
<text x="481.00" y="300.20" font-size="14.0" fill="#231f20" text-anchor="start" textLength="128.40" lengthAdjust="spacingAndGlyphs">Retina amacrine cells</text>
<text x="480.00" y="316.60" font-size="14.0" fill="#231f20" text-anchor="start" textLength="130.40" lengthAdjust="spacingAndGlyphs">phenotypic-potential</text>
<text x="394.50" y="356.65" font-size="8.3" fill="#5e5f61" text-anchor="end" textLength="10.60" lengthAdjust="spacingAndGlyphs">0.6</text>
<text x="394.50" y="401.55" font-size="8.3" fill="#5e5f61" text-anchor="end" textLength="10.60" lengthAdjust="spacingAndGlyphs">0.4</text>
<text x="394.50" y="446.55" font-size="8.3" fill="#5e5f61" text-anchor="end" textLength="10.60" lengthAdjust="spacingAndGlyphs">0.2</text>
<text x="394.50" y="491.75" font-size="8.3" fill="#5e5f61" text-anchor="end" textLength="10.60" lengthAdjust="spacingAndGlyphs">0.0</text>
<text x="400.50" y="501.70" font-size="7.9" fill="#5e5f61" text-anchor="middle">0</text>
<text x="460.50" y="501.70" font-size="7.9" fill="#5e5f61" text-anchor="middle">1000</text>
<text x="520.00" y="501.70" font-size="7.9" fill="#5e5f61" text-anchor="middle">2000</text>
<text x="579.20" y="501.70" font-size="7.9" fill="#5e5f61" text-anchor="middle">3000</text>
<text x="638.00" y="501.70" font-size="7.9" fill="#5e5f61" text-anchor="middle">4000</text>
<text x="478.20" y="514.40" font-size="11.0" fill="#231f20" text-anchor="start" textLength="46.60" lengthAdjust="spacingAndGlyphs">SignScore</text>
<line x1="392.2" y1="476.0" x2="676" y2="476.0" stroke="#d6d6d6" stroke-width="1.15" stroke-dasharray="5.3,5.1"/>
<line x1="502.2" y1="348" x2="502.2" y2="497.5" stroke="#d6d6d6" stroke-width="1.15" stroke-dasharray="5.3,5.1"/>
<path d="M434.50,346.00 C438.75,345.88 452.42,345.65 460.00,345.30 C467.58,344.95 473.33,344.35 480.00,343.90 C486.67,343.45 494.17,342.77 500.00,342.60 C505.83,342.43 510.00,342.92 515.00,342.90 C520.00,342.88 525.00,342.77 530.00,342.50 C535.00,342.23 540.33,341.60 545.00,341.30 C549.67,341.00 553.83,340.68 558.00,340.70 C562.17,340.72 565.50,340.92 570.00,341.40 C574.50,341.88 580.00,342.83 585.00,343.60 C590.00,344.37 597.50,345.60 600.00,346.00 Z" fill="#916b65" fill-opacity="0.95"/>
<path d="M597,346 C602,344.5 607,342 611,342 C615,342 618,343.5 620.4,343 C624,342 627,333 631.8,332.6 C636,332.5 639,335.5 643.2,335.8 C647,336.5 650,339 652.7,339.6 C655,340.5 657,341 662.2,341 L662.2,346 Z" fill="#838aa5" fill-opacity="0.92"/>
<path d="M676.1,353.6 C677.2,354.5 678,362 678.4,372 C678.8,385 679.1,398 679.1,405 C679.1,415 678.6,425 677.3,431 C676.8,433 676.4,434 676.1,434 Z" fill="#838aa5"/>
<path d="M676.1,431 C677,433 677.8,436 678.4,439 C679.5,442 681.5,445 683,449 C684.5,452 685.5,455 685.2,459 C685,464 684,468 683,471 C681.5,475 679.5,479 678.5,482 C677.5,485 676.6,487.5 676.1,489.6 Z" fill="#916b65"/>
<circle cx="638.60" cy="353.60" r="1.6" fill="#415275"/>
<circle cx="646.10" cy="366.00" r="1.6" fill="#415275"/>
<circle cx="643.20" cy="372.80" r="1.6" fill="#415275"/>
<circle cx="661.90" cy="374.40" r="1.6" fill="#415275"/>
<circle cx="630.70" cy="387.00" r="1.6" fill="#415275"/>
<circle cx="661.90" cy="396.10" r="1.6" fill="#415275"/>
<circle cx="631.40" cy="407.90" r="1.6" fill="#415275"/>
<circle cx="643.60" cy="409.00" r="1.6" fill="#415275"/>
<circle cx="648.40" cy="407.90" r="1.6" fill="#415275"/>
<circle cx="649.50" cy="407.00" r="1.6" fill="#415275"/>
<circle cx="633.40" cy="416.50" r="1.6" fill="#415275"/>
<circle cx="631.40" cy="419.60" r="1.6" fill="#415275"/>
<circle cx="631.40" cy="421.40" r="1.6" fill="#415275"/>
<circle cx="612.60" cy="431.60" r="1.6" fill="#415275"/>
<circle cx="604.70" cy="437.30" r="1.6" fill="#415275"/>
<circle cx="604.40" cy="437.50" r="1.6" fill="#415275"/>
<circle cx="612.40" cy="431.80" r="1.6" fill="#415275"/>
<circle cx="573.10" cy="449.40" r="1.6" fill="#415275"/>
<circle cx="587.00" cy="412.00" r="1.6" fill="#415275"/>
<text x="649.50" y="370.68" font-size="6.8" fill="#415275" text-anchor="start" textLength="24.20" lengthAdjust="spacingAndGlyphs">mraGT1</text>
<circle cx="518.50" cy="481.70" r="2.5" fill="#a8cc8a"/>
<circle cx="510.00" cy="482.60" r="2.5" fill="#a8cc8a"/>
<circle cx="534.60" cy="478.40" r="2.5" fill="#a8cc8a"/>
<circle cx="539.00" cy="479.20" r="2.5" fill="#a8cc8a"/>
<circle cx="547.90" cy="477.30" r="2.5" fill="#a8cc8a"/>
<circle cx="554.50" cy="476.00" r="2.5" fill="#a8cc8a"/>
<circle cx="559.30" cy="475.00" r="2.5" fill="#a8cc8a"/>
<circle cx="562.00" cy="474.80" r="2.5" fill="#a8cc8a"/>
<circle cx="565.00" cy="474.50" r="2.5" fill="#a8cc8a"/>
<circle cx="568.00" cy="473.60" r="2.5" fill="#a8cc8a"/>
<circle cx="572.50" cy="472.20" r="2.5" fill="#a8cc8a"/>
<circle cx="584.90" cy="470.90" r="2.5" fill="#a8cc8a"/>
<circle cx="590.60" cy="465.50" r="2.5" fill="#a8cc8a"/>
<circle cx="597.20" cy="467.00" r="2.5" fill="#a8cc8a"/>
<circle cx="598.20" cy="460.80" r="2.5" fill="#a8cc8a"/>
<circle cx="618.00" cy="460.80" r="2.5" fill="#a8cc8a"/>
<circle cx="549.20" cy="469.30" r="2.5" fill="#a8cc8a"/>
<circle cx="567.80" cy="464.00" r="2.5" fill="#a8cc8a"/>
<circle cx="619.00" cy="461.00" r="2.5" fill="#a8cc8a"/>
<circle cx="622.30" cy="461.00" r="2.5" fill="#a8cc8a"/>
<circle cx="629.60" cy="462.10" r="2.5" fill="#a8cc8a"/>
<circle cx="591.00" cy="465.50" r="2.5" fill="#a8cc8a"/>
<circle cx="598.00" cy="461.00" r="2.5" fill="#a8cc8a"/>
<circle cx="588.00" cy="470.50" r="2.5" fill="#a8cc8a"/>
<circle cx="523.20" cy="454.20" r="1.25" fill="#a8cc8a"/>
<circle cx="533.30" cy="455.70" r="1.25" fill="#a8cc8a"/>
<circle cx="532.10" cy="463.30" r="1.25" fill="#a8cc8a"/>
<circle cx="585.30" cy="442.40" r="1.25" fill="#a8cc8a"/>
<circle cx="603.90" cy="442.40" r="1.25" fill="#a8cc8a"/>
<circle cx="505.70" cy="469.70" r="1.25" fill="#a8cc8a"/>
<circle cx="603.60" cy="442.90" r="1.25" fill="#a8cc8a"/>
<circle cx="407.30" cy="489.40" r="2.0" fill="#a8cc8a"/>
<circle cx="421.30" cy="489.40" r="2.0" fill="#a8cc8a"/>
<circle cx="426.50" cy="488.20" r="2.0" fill="#a8cc8a"/>
<circle cx="430.00" cy="488.70" r="2.0" fill="#a8cc8a"/>
<circle cx="436.20" cy="488.20" r="2.0" fill="#a8cc8a"/>
<circle cx="437.90" cy="489.00" r="2.0" fill="#a8cc8a"/>
<circle cx="461.60" cy="485.90" r="2.0" fill="#a8cc8a"/>
<circle cx="459.80" cy="483.80" r="2.0" fill="#a8cc8a"/>
<circle cx="473.00" cy="486.40" r="2.0" fill="#a8cc8a"/>
<circle cx="473.80" cy="483.80" r="2.0" fill="#a8cc8a"/>
<circle cx="479.10" cy="485.50" r="2.0" fill="#a8cc8a"/>
<circle cx="480.80" cy="481.70" r="2.0" fill="#a8cc8a"/>
<circle cx="486.10" cy="482.90" r="2.0" fill="#a8cc8a"/>
<circle cx="485.20" cy="484.70" r="2.0" fill="#a8cc8a"/>
<circle cx="496.60" cy="475.00" r="2.0" fill="#a8cc8a"/>
<circle cx="505.40" cy="469.40" r="2.0" fill="#a8cc8a"/>
<circle cx="509.80" cy="482.00" r="2.0" fill="#a8cc8a"/>
<circle cx="501.90" cy="477.70" r="2.0" fill="#a8cc8a"/>
<circle cx="441.00" cy="488.00" r="2.0" fill="#a8cc8a"/>
<circle cx="466.00" cy="485.00" r="2.0" fill="#a8cc8a"/>
<circle cx="412.00" cy="489.00" r="2.0" fill="#a8cc8a"/>
<circle cx="454.60" cy="486.40" r="1.4" fill="#a8cc8a"/>
<circle cx="447.60" cy="487.30" r="1.4" fill="#a8cc8a"/>
<circle cx="538.40" cy="439.00" r="1.2" fill="#5b92c2"/>
<circle cx="581.10" cy="446.60" r="1.2" fill="#5b92c2"/>
<circle cx="560.20" cy="456.60" r="1.2" fill="#5b92c2"/>
<circle cx="542.80" cy="460.40" r="1.2" fill="#5b92c2"/>
<circle cx="538.00" cy="464.60" r="1.2" fill="#5b92c2"/>
<circle cx="528.90" cy="464.00" r="1.2" fill="#5b92c2"/>
<circle cx="518.10" cy="464.60" r="1.2" fill="#5b92c2"/>
<circle cx="520.40" cy="469.70" r="1.2" fill="#5b92c2"/>
<circle cx="515.60" cy="473.10" r="1.2" fill="#5b92c2"/>
<circle cx="510.50" cy="475.00" r="1.2" fill="#5b92c2"/>
<circle cx="491.50" cy="467.80" r="1.2" fill="#5b92c2"/>
<circle cx="498.50" cy="469.00" r="1.2" fill="#5b92c2"/>
<circle cx="494.70" cy="472.80" r="1.2" fill="#5b92c2"/>
<circle cx="499.50" cy="476.90" r="1.2" fill="#5b92c2"/>
<circle cx="480.80" cy="474.20" r="1.2" fill="#5b92c2"/>
<circle cx="491.40" cy="468.00" r="1.2" fill="#5b92c2"/>
<circle cx="498.40" cy="468.90" r="1.2" fill="#5b92c2"/>
<circle cx="405.50" cy="489.10" r="1.15" fill="#5b92c2"/>
<circle cx="407.60" cy="489.40" r="1.15" fill="#5b92c2"/>
<circle cx="412.50" cy="488.20" r="1.15" fill="#5b92c2"/>
<circle cx="415.10" cy="488.20" r="1.15" fill="#5b92c2"/>
<circle cx="417.40" cy="487.70" r="1.15" fill="#5b92c2"/>
<circle cx="419.50" cy="487.30" r="1.15" fill="#5b92c2"/>
<circle cx="423.90" cy="487.00" r="1.15" fill="#5b92c2"/>
<circle cx="426.20" cy="486.40" r="1.15" fill="#5b92c2"/>
<circle cx="428.30" cy="487.00" r="1.15" fill="#5b92c2"/>
<circle cx="430.90" cy="487.00" r="1.15" fill="#5b92c2"/>
<circle cx="433.20" cy="486.40" r="1.15" fill="#5b92c2"/>
<circle cx="435.60" cy="482.90" r="1.15" fill="#5b92c2"/>
<circle cx="437.00" cy="485.90" r="1.15" fill="#5b92c2"/>
<circle cx="441.40" cy="485.90" r="1.15" fill="#5b92c2"/>
<circle cx="444.10" cy="486.40" r="1.15" fill="#5b92c2"/>
<circle cx="446.70" cy="485.90" r="1.15" fill="#5b92c2"/>
<circle cx="449.30" cy="485.90" r="1.15" fill="#5b92c2"/>
<circle cx="448.40" cy="483.80" r="1.15" fill="#5b92c2"/>
<circle cx="451.90" cy="480.30" r="1.15" fill="#5b92c2"/>
<circle cx="453.70" cy="486.40" r="1.15" fill="#5b92c2"/>
<circle cx="457.20" cy="484.70" r="1.15" fill="#5b92c2"/>
<circle cx="462.40" cy="483.40" r="1.15" fill="#5b92c2"/>
<circle cx="465.10" cy="481.70" r="1.15" fill="#5b92c2"/>
<circle cx="468.60" cy="482.00" r="1.15" fill="#5b92c2"/>
<circle cx="470.30" cy="479.40" r="1.15" fill="#5b92c2"/>
<circle cx="473.00" cy="476.80" r="1.15" fill="#5b92c2"/>
<circle cx="474.70" cy="481.20" r="1.15" fill="#5b92c2"/>
<circle cx="476.50" cy="481.20" r="1.15" fill="#5b92c2"/>
<circle cx="480.80" cy="474.20" r="1.15" fill="#5b92c2"/>
<circle cx="484.30" cy="481.20" r="1.15" fill="#5b92c2"/>
<circle cx="488.70" cy="476.80" r="1.15" fill="#5b92c2"/>
<circle cx="491.40" cy="468.00" r="1.15" fill="#5b92c2"/>
<circle cx="493.10" cy="477.70" r="1.15" fill="#5b92c2"/>
<circle cx="494.90" cy="472.40" r="1.15" fill="#5b92c2"/>
<circle cx="498.40" cy="468.90" r="1.15" fill="#5b92c2"/>
<circle cx="499.20" cy="477.70" r="1.15" fill="#5b92c2"/>
<circle cx="501.90" cy="474.20" r="1.15" fill="#5b92c2"/>
<circle cx="509.80" cy="475.00" r="1.15" fill="#5b92c2"/>
<circle cx="515.00" cy="472.40" r="1.15" fill="#5b92c2"/>
<circle cx="541.60" cy="465.90" r="1.65" fill="#cb5955"/>
<circle cx="587.70" cy="452.30" r="1.65" fill="#cb5955"/>
<circle cx="603.50" cy="448.50" r="1.65" fill="#cb5955"/>
<circle cx="611.50" cy="442.50" r="1.65" fill="#cb5955"/>
<circle cx="621.70" cy="436.10" r="1.65" fill="#cb5955"/>
<circle cx="620.50" cy="438.40" r="1.65" fill="#cb5955"/>
<circle cx="622.50" cy="437.00" r="1.65" fill="#cb5955"/>
<circle cx="611.40" cy="442.40" r="1.65" fill="#cb5955"/>
<circle cx="573.50" cy="450.70" r="1.8" fill="#5e2a2e"/>
<circle cx="549.40" cy="462.70" r="1.8" fill="#5e2a2e"/>
<circle cx="504.80" cy="477.30" r="1.8" fill="#5e2a2e"/>
<text x="557.90" y="446.29" font-size="7.4" fill="#5e2a2e" text-anchor="start" textLength="17.90" lengthAdjust="spacingAndGlyphs">MGT2</text>
<text x="539.70" y="458.09" font-size="7.4" fill="#5e2a2e" text-anchor="start" textLength="17.10" lengthAdjust="spacingAndGlyphs">MGT1</text>
<text x="490.00" y="484.59" font-size="7.4" fill="#5e2a2e" text-anchor="start" textLength="16.10" lengthAdjust="spacingAndGlyphs">MGT4</text>
<text x="566.90" y="462.99" font-size="7.4" fill="#cb5955" text-anchor="start" textLength="20.30" lengthAdjust="spacingAndGlyphs">CLGT2</text>
<text x="591.00" y="457.69" font-size="7.4" fill="#cb5955" text-anchor="start" textLength="20.40" lengthAdjust="spacingAndGlyphs">PNGT1</text>
<text x="525.10" y="475.39" font-size="7.4" fill="#cb5955" text-anchor="start" textLength="19.90" lengthAdjust="spacingAndGlyphs">CLGT3</text>
<text x="630.30" y="431.89" font-size="7.4" fill="#cb5955" text-anchor="start" textLength="19.00" lengthAdjust="spacingAndGlyphs">CLGT1</text>
<text x="628.90" y="441.39" font-size="7.4" fill="#cb5955" text-anchor="start" textLength="21.10" lengthAdjust="spacingAndGlyphs">PNGT3</text>
<text x="613.80" y="448.89" font-size="7.4" fill="#cb5955" text-anchor="start" textLength="20.80" lengthAdjust="spacingAndGlyphs">PNGT2</text>
<path d="M626,435 L630.5,431.5 M625,438.5 L628,439.5" stroke="#cb5955" stroke-width="0.8" fill="none"/>
<circle cx="35.60" cy="535.80" r="6.7" fill="#6a3536"/>
<text x="48.70" y="540.60" font-size="11.4" fill="#231f20" text-anchor="start" textLength="70.50" lengthAdjust="spacingAndGlyphs">MES-GBM sLCR</text>
<circle cx="142.80" cy="536.90" r="6.7" fill="#d0696a"/>
<text x="154.90" y="540.80" font-size="11.4" fill="#231f20" text-anchor="start" textLength="67.30" lengthAdjust="spacingAndGlyphs">non-MES sLCR</text>
<circle cx="243.00" cy="538.00" r="6.7" fill="#5a6b91"/>
<text x="257.80" y="541.10" font-size="11.4" fill="#231f20" text-anchor="start" textLength="133.50" lengthAdjust="spacingAndGlyphs">mouse retina amacrine sLCR</text>
<circle cx="414.30" cy="538.30" r="6.7" fill="#86aed0"/>
<text x="428.50" y="541.20" font-size="11.4" fill="#231f20" text-anchor="start" textLength="65.90" lengthAdjust="spacingAndGlyphs">mRetinal sLCR</text>
<circle cx="517.80" cy="538.30" r="6.7" fill="#a9cb8d"/>
<text x="533.30" y="541.20" font-size="11.4" fill="#231f20" text-anchor="start" textLength="127.20" lengthAdjust="spacingAndGlyphs">PromoterDB (Juttner et al.,)</text>
<text x="188.00" y="569.60" font-size="14.4" fill="#231f20" text-anchor="start" textLength="94.00" lengthAdjust="spacingAndGlyphs">Sequence (bp)</text>
<circle cx="296.60" cy="565.40" r="5.1" fill="#333333"/>
<text x="307.20" y="568.87" font-size="9.9" fill="#231f20" text-anchor="start" textLength="17.50" lengthAdjust="spacingAndGlyphs">500</text>
<circle cx="357.10" cy="565.40" r="6.8" fill="#333333"/>
<text x="368.50" y="568.87" font-size="9.9" fill="#231f20" text-anchor="start" textLength="22.70" lengthAdjust="spacingAndGlyphs">1000</text>
<circle cx="424.50" cy="565.40" r="8.2" fill="#333333"/>
<text x="436.40" y="568.87" font-size="9.9" fill="#231f20" text-anchor="start" textLength="22.90" lengthAdjust="spacingAndGlyphs">1500</text>
<circle cx="492.00" cy="565.40" r="9.2" fill="#333333"/>
<text x="503.20" y="568.87" font-size="9.9" fill="#231f20" text-anchor="start" textLength="23.50" lengthAdjust="spacingAndGlyphs">2000</text>
</svg></body></html>
